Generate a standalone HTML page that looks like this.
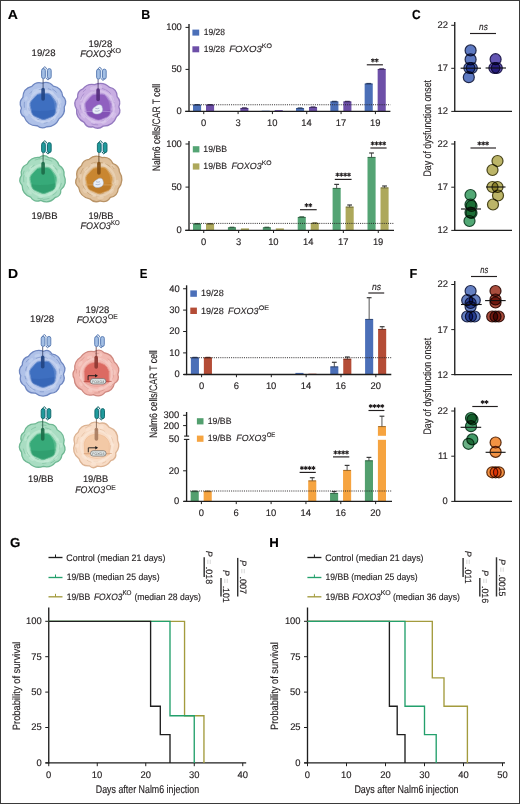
<!DOCTYPE html>
<html><head><meta charset="utf-8"><style>
html,body{margin:0;padding:0;background:#fff;}
svg{display:block;font-family:"Liberation Sans", sans-serif;text-rendering:geometricPrecision;}
svg{will-change:transform;}
text{stroke:#231f20;stroke-width:0.15px;}
</style></head><body>
<svg width="520" height="804" viewBox="0 0 520 804">
<rect x="0" y="0" width="520" height="804" fill="#fff"/>
<text x="7.85" y="18.50" font-size="13" fill="#000" textLength="10.13" lengthAdjust="spacingAndGlyphs" font-weight="bold">A</text>
<text x="141.29" y="18.50" font-size="13" fill="#000" textLength="9.00" lengthAdjust="spacingAndGlyphs" font-weight="bold">B</text>
<text x="411.92" y="18.60" font-size="13" fill="#000" textLength="8.60" lengthAdjust="spacingAndGlyphs" font-weight="bold">C</text>
<text x="8.09" y="277.90" font-size="13" fill="#000" textLength="10.10" lengthAdjust="spacingAndGlyphs" font-weight="bold">D</text>
<text x="139.65" y="277.90" font-size="13" fill="#000" textLength="7.67" lengthAdjust="spacingAndGlyphs" font-weight="bold">E</text>
<text x="409.57" y="277.90" font-size="13" fill="#000" textLength="7.79" lengthAdjust="spacingAndGlyphs" font-weight="bold">F</text>
<text x="10.07" y="547.30" font-size="13" fill="#000" textLength="10.37" lengthAdjust="spacingAndGlyphs" font-weight="bold">G</text>
<text x="269.34" y="547.30" font-size="13" fill="#000" textLength="9.55" lengthAdjust="spacingAndGlyphs" font-weight="bold">H</text>
<path d="M64.26,106.97 Q65.50,114.57 59.01,118.74 Q55.48,126.82 46.62,126.77 Q41.66,129.54 37.24,125.75 Q27.55,125.98 24.23,116.85 Q18.91,113.80 21.39,108.04 Q18.24,102.18 22.90,97.36 Q23.08,88.38 31.80,86.33 Q35.94,81.24 42.20,83.08 Q48.78,80.80 53.33,86.10 Q61.69,87.57 62.63,95.99 Q67.87,100.79 64.26,106.97Z" fill="#afc1e8" stroke="#6e86c0" stroke-width="1.3"/>
<ellipse cx="59.38" cy="105.82" rx="2.41" ry="1.71" transform="rotate(92.8 59.38 105.82)" fill="#cfdbf3" opacity="0.45"/>
<ellipse cx="53.30" cy="118.71" rx="2.85" ry="1.87" transform="rotate(142.3 53.30 118.71)" fill="#cfdbf3" opacity="0.45"/>
<ellipse cx="43.00" cy="122.14" rx="2.54" ry="1.38" transform="rotate(179.0 43.00 122.14)" fill="#cfdbf3" opacity="0.45"/>
<ellipse cx="37.58" cy="119.81" rx="2.70" ry="1.66" transform="rotate(199.1 37.58 119.81)" fill="#cfdbf3" opacity="0.45"/>
<ellipse cx="26.09" cy="112.95" rx="3.17" ry="1.97" transform="rotate(244.4 26.09 112.95)" fill="#cfdbf3" opacity="0.45"/>
<ellipse cx="26.07" cy="98.44" rx="2.23" ry="1.73" transform="rotate(291.5 26.07 98.44)" fill="#cfdbf3" opacity="0.45"/>
<ellipse cx="33.98" cy="91.43" rx="3.09" ry="1.77" transform="rotate(327.3 33.98 91.43)" fill="#cfdbf3" opacity="0.45"/>
<ellipse cx="38.22" cy="89.61" rx="2.69" ry="1.52" transform="rotate(343.8 38.22 89.61)" fill="#cfdbf3" opacity="0.45"/>
<ellipse cx="51.33" cy="92.11" rx="2.90" ry="1.56" transform="rotate(393.8 51.33 92.11)" fill="#cfdbf3" opacity="0.45"/>
<ellipse cx="59.57" cy="100.75" rx="3.12" ry="1.86" transform="rotate(435.9 59.57 100.75)" fill="#cfdbf3" opacity="0.45"/>
<path d="M56.99,111.66 A15.77,15.77 0 0 1 55.75,113.85" fill="none" stroke="#6e86c0" stroke-width="0.8" stroke-linecap="round" opacity="0.7"/>
<path d="M53.82,118.90 A17.80,17.80 0 0 1 51.03,120.73" fill="none" stroke="#6e86c0" stroke-width="0.8" stroke-linecap="round" opacity="0.7"/>
<path d="M47.19,122.52 A18.09,18.09 0 0 1 44.08,123.04" fill="none" stroke="#6e86c0" stroke-width="0.8" stroke-linecap="round" opacity="0.7"/>
<path d="M39.26,119.81 A15.21,15.21 0 0 1 37.00,119.10" fill="none" stroke="#6e86c0" stroke-width="0.8" stroke-linecap="round" opacity="0.7"/>
<path d="M31.35,116.64 A16.26,16.26 0 0 1 29.48,114.46" fill="none" stroke="#6e86c0" stroke-width="0.8" stroke-linecap="round" opacity="0.7"/>
<path d="M29.14,110.72 A14.72,14.72 0 0 1 28.32,108.13" fill="none" stroke="#6e86c0" stroke-width="0.8" stroke-linecap="round" opacity="0.7"/>
<path d="M24.36,107.34 A18.48,18.48 0 0 1 24.42,102.23" fill="none" stroke="#6e86c0" stroke-width="0.8" stroke-linecap="round" opacity="0.7"/>
<path d="M28.70,100.64 A14.67,14.67 0 0 1 30.74,96.51" fill="none" stroke="#6e86c0" stroke-width="0.8" stroke-linecap="round" opacity="0.7"/>
<path d="M30.05,93.24 A17.27,17.27 0 0 1 32.01,91.43" fill="none" stroke="#6e86c0" stroke-width="0.8" stroke-linecap="round" opacity="0.7"/>
<path d="M39.05,89.79 A15.64,15.64 0 0 1 41.47,89.40" fill="none" stroke="#6e86c0" stroke-width="0.8" stroke-linecap="round" opacity="0.7"/>
<path d="M48.30,88.69 A17.24,17.24 0 0 1 50.98,89.88" fill="none" stroke="#6e86c0" stroke-width="0.8" stroke-linecap="round" opacity="0.7"/>
<path d="M52.55,89.07 A18.73,18.73 0 0 1 56.38,92.21" fill="none" stroke="#6e86c0" stroke-width="0.8" stroke-linecap="round" opacity="0.7"/>
<path d="M57.29,99.94 A15.44,15.44 0 0 1 58.14,105.12" fill="none" stroke="#6e86c0" stroke-width="0.8" stroke-linecap="round" opacity="0.7"/>
<path d="M59.53,104.67 A16.84,16.84 0 0 1 59.14,108.64" fill="none" stroke="#6e86c0" stroke-width="0.8" stroke-linecap="round" opacity="0.7"/>
<circle cx="43.50" cy="106.30" r="15.6" fill="none" stroke="#cfdbf3" stroke-width="2.2" opacity="0.55"/>
<path d="M47.04,93.52 Q49.72,93.42 51.27,95.59 L55.21,101.12 Q56.76,103.29 56.34,105.94 L55.25,112.70 Q54.83,115.35 52.33,116.38 L45.98,118.98 Q43.48,120.00 41.04,118.93 L34.83,116.21 Q32.39,115.14 31.74,112.49 L30.11,105.73 Q29.46,103.08 31.24,101.05 L35.75,95.89 Q37.53,93.86 40.21,93.76 L47.04,93.52Z" fill="#3e6fc0" stroke="#6f93d2" stroke-width="1.0"/>
<clipPath id="nc42_105"><path d="M47.04,93.52 Q49.72,93.42 51.27,95.59 L55.21,101.12 Q56.76,103.29 56.34,105.94 L55.25,112.70 Q54.83,115.35 52.33,116.38 L45.98,118.98 Q43.48,120.00 41.04,118.93 L34.83,116.21 Q32.39,115.14 31.74,112.49 L30.11,105.73 Q29.46,103.08 31.24,101.05 L35.75,95.89 Q37.53,93.86 40.21,93.76 L47.04,93.52Z"/></clipPath>
<g clip-path="url(#nc42_105)"><path d="M27.50,109.30 Q39.50,113.30 59.50,108.30 L59.50,122.30 L27.50,122.30Z" fill="#2c58a8" opacity="0.35"/><path d="M47.50,92.30 Q56.50,98.30 55.50,112.30" fill="none" stroke="#6f93d2" stroke-width="1.4" opacity="0.5"/></g>
<line x1="43.10" y1="78.60" x2="43.10" y2="91.00" stroke="#28365a" stroke-width="0.75"/>
<rect x="41.30" y="87.80" width="3.6" height="13.0" rx="1.8" fill="#224483" opacity="0.92"/>
<rect x="44.90" y="68.80" width="3.0" height="9.8" fill="#d6e4f4"/>
<rect x="41.60" y="68.60" width="3.7" height="10.0" rx="1.85" fill="#a3bfe4" stroke="#5577b0" stroke-width="0.9"/>
<rect x="47.50" y="68.60" width="3.7" height="10.0" rx="1.85" fill="#a3bfe4" stroke="#5577b0" stroke-width="0.9"/>
<path d="M42.80,69.00 Q44.80,64.60 46.60,69.00" fill="none" stroke="#5577b0" stroke-width="1.0"/>
<path d="M46.40,78.00 Q48.00,81.80 49.60,78.00" fill="none" stroke="#5577b0" stroke-width="1.0"/>
<path d="M103.22,126.12 Q98.17,130.03 92.75,126.76 Q86.72,128.06 84.17,122.39 Q75.75,118.35 76.59,109.06 Q72.50,102.86 77.59,97.50 Q77.12,91.19 82.90,88.93 Q87.39,83.03 94.66,84.62 Q103.10,81.05 109.70,87.46 Q117.14,89.09 117.16,96.77 Q121.29,101.14 118.84,106.65 Q121.70,112.78 116.46,116.79 Q113.12,126.15 103.22,126.12Z" fill="#c9aee3" stroke="#9479bf" stroke-width="1.3"/>
<ellipse cx="103.87" cy="122.10" rx="2.93" ry="1.70" transform="rotate(159.6 103.87 122.10)" fill="#e0d0f0" opacity="0.45"/>
<ellipse cx="93.07" cy="122.16" rx="2.37" ry="1.65" transform="rotate(195.5 93.07 122.16)" fill="#e0d0f0" opacity="0.45"/>
<ellipse cx="83.11" cy="115.74" rx="3.04" ry="1.44" transform="rotate(234.9 83.11 115.74)" fill="#e0d0f0" opacity="0.45"/>
<ellipse cx="81.84" cy="105.68" rx="3.29" ry="1.64" transform="rotate(269.3 81.84 105.68)" fill="#e0d0f0" opacity="0.45"/>
<ellipse cx="81.61" cy="98.70" rx="2.64" ry="1.32" transform="rotate(292.9 81.61 98.70)" fill="#e0d0f0" opacity="0.45"/>
<ellipse cx="93.28" cy="88.25" rx="3.34" ry="1.91" transform="rotate(345.6 93.28 88.25)" fill="#e0d0f0" opacity="0.45"/>
<ellipse cx="99.28" cy="86.91" rx="2.87" ry="1.93" transform="rotate(364.9 99.28 86.91)" fill="#e0d0f0" opacity="0.45"/>
<ellipse cx="111.55" cy="98.02" rx="3.21" ry="1.86" transform="rotate(421.6 111.55 98.02)" fill="#e0d0f0" opacity="0.45"/>
<ellipse cx="113.57" cy="103.82" rx="2.81" ry="1.92" transform="rotate(443.9 113.57 103.82)" fill="#e0d0f0" opacity="0.45"/>
<ellipse cx="113.74" cy="115.30" rx="3.11" ry="1.98" transform="rotate(481.4 113.74 115.30)" fill="#e0d0f0" opacity="0.45"/>
<path d="M97.78,124.89 A19.39,19.39 0 0 1 91.88,123.99" fill="none" stroke="#9479bf" stroke-width="0.8" stroke-linecap="round" opacity="0.7"/>
<path d="M87.23,117.22 A15.71,15.71 0 0 1 84.18,113.51" fill="none" stroke="#9479bf" stroke-width="0.8" stroke-linecap="round" opacity="0.7"/>
<path d="M80.29,116.03 A20.34,20.34 0 0 1 77.78,109.61" fill="none" stroke="#9479bf" stroke-width="0.8" stroke-linecap="round" opacity="0.7"/>
<path d="M80.49,109.08 A17.57,17.57 0 0 1 80.13,105.05" fill="none" stroke="#9479bf" stroke-width="0.8" stroke-linecap="round" opacity="0.7"/>
<path d="M80.64,99.29 A18.16,18.16 0 0 1 83.73,93.90" fill="none" stroke="#9479bf" stroke-width="0.8" stroke-linecap="round" opacity="0.7"/>
<path d="M83.18,91.72 A20.02,20.02 0 0 1 85.72,89.46" fill="none" stroke="#9479bf" stroke-width="0.8" stroke-linecap="round" opacity="0.7"/>
<path d="M92.79,91.73 A14.62,14.62 0 0 1 96.51,90.93" fill="none" stroke="#9479bf" stroke-width="0.8" stroke-linecap="round" opacity="0.7"/>
<path d="M102.32,88.57 A17.55,17.55 0 0 1 104.82,89.45" fill="none" stroke="#9479bf" stroke-width="0.8" stroke-linecap="round" opacity="0.7"/>
<path d="M105.79,89.77 A17.69,17.69 0 0 1 110.65,93.45" fill="none" stroke="#9479bf" stroke-width="0.8" stroke-linecap="round" opacity="0.7"/>
<path d="M111.90,97.63 A16.23,16.23 0 0 1 113.73,102.92" fill="none" stroke="#9479bf" stroke-width="0.8" stroke-linecap="round" opacity="0.7"/>
<path d="M114.57,102.51 A17.14,17.14 0 0 1 114.77,107.01" fill="none" stroke="#9479bf" stroke-width="0.8" stroke-linecap="round" opacity="0.7"/>
<path d="M112.10,110.15 A15.13,15.13 0 0 1 110.35,113.80" fill="none" stroke="#9479bf" stroke-width="0.8" stroke-linecap="round" opacity="0.7"/>
<path d="M109.13,118.27 A17.14,17.14 0 0 1 105.90,120.55" fill="none" stroke="#9479bf" stroke-width="0.8" stroke-linecap="round" opacity="0.7"/>
<path d="M103.98,120.59 A16.34,16.34 0 0 1 101.06,121.49" fill="none" stroke="#9479bf" stroke-width="0.8" stroke-linecap="round" opacity="0.7"/>
<circle cx="98.50" cy="106.80" r="15.6" fill="none" stroke="#e0d0f0" stroke-width="2.2" opacity="0.55"/>
<path d="M102.04,94.02 Q104.72,93.92 106.27,96.09 L110.21,101.62 Q111.76,103.79 111.34,106.44 L110.25,113.20 Q109.83,115.85 107.33,116.88 L100.98,119.48 Q98.48,120.50 96.04,119.43 L89.83,116.71 Q87.39,115.64 86.74,112.99 L85.11,106.23 Q84.46,103.58 86.24,101.55 L90.75,96.39 Q92.53,94.36 95.21,94.26 L102.04,94.02Z" fill="#9060c0" stroke="#b08fd6" stroke-width="1.0"/>
<clipPath id="nc97_105"><path d="M102.04,94.02 Q104.72,93.92 106.27,96.09 L110.21,101.62 Q111.76,103.79 111.34,106.44 L110.25,113.20 Q109.83,115.85 107.33,116.88 L100.98,119.48 Q98.48,120.50 96.04,119.43 L89.83,116.71 Q87.39,115.64 86.74,112.99 L85.11,106.23 Q84.46,103.58 86.24,101.55 L90.75,96.39 Q92.53,94.36 95.21,94.26 L102.04,94.02Z"/></clipPath>
<g clip-path="url(#nc97_105)"><path d="M82.50,109.80 Q94.50,113.80 114.50,108.80 L114.50,122.80 L82.50,122.80Z" fill="#6c3aa0" opacity="0.35"/><path d="M102.50,92.80 Q111.50,98.80 110.50,112.80" fill="none" stroke="#b08fd6" stroke-width="1.4" opacity="0.5"/></g>
<line x1="84.50" y1="111.40" x2="112.50" y2="111.40" stroke="#b08fd6" stroke-width="0.8"/>
<path d="M92.50,111.40 C92.10,107.90 95.20,106.90 96.90,105.60 C98.70,103.80 102.50,104.60 102.20,107.60 C103.30,109.40 102.50,113.20 98.90,113.70 C96.40,114.60 92.90,113.70 92.50,111.40Z" fill="#e9eff8" stroke="#a4b2cc" stroke-width="0.5"/>
<path d="M95.20,108.20 q2,1 4,0 M94.70,110.90 q2.5,1 5,-0.5" stroke="#8e9cbc" stroke-width="0.6" fill="none"/>
<line x1="98.10" y1="79.10" x2="98.10" y2="91.50" stroke="#3a2a5a" stroke-width="0.75"/>
<rect x="96.30" y="88.30" width="3.6" height="13.0" rx="1.8" fill="#542d7c" opacity="0.92"/>
<rect x="99.90" y="69.30" width="3.0" height="9.8" fill="#d6e4f4"/>
<rect x="96.60" y="69.10" width="3.7" height="10.0" rx="1.85" fill="#a3bfe4" stroke="#5577b0" stroke-width="0.9"/>
<rect x="102.50" y="69.10" width="3.7" height="10.0" rx="1.85" fill="#a3bfe4" stroke="#5577b0" stroke-width="0.9"/>
<path d="M97.80,69.50 Q99.80,65.10 101.60,69.50" fill="none" stroke="#5577b0" stroke-width="1.0"/>
<path d="M101.40,78.50 Q103.00,82.30 104.60,78.50" fill="none" stroke="#5577b0" stroke-width="1.0"/>
<path d="M30.62,197.03 Q22.23,194.30 22.16,185.48 Q17.75,180.67 21.50,175.33 Q19.98,167.41 27.28,163.98 Q31.16,156.81 39.28,157.48 Q44.20,153.65 48.79,157.72 Q56.53,157.94 59.06,165.31 Q64.89,168.62 64.01,175.23 Q67.94,183.76 60.80,189.87 Q61.22,196.42 55.13,197.49 Q49.04,204.39 40.74,200.34 Q34.20,203.04 30.62,197.03Z" fill="#a9ddc2" stroke="#6fb893" stroke-width="1.3"/>
<ellipse cx="29.63" cy="192.16" rx="2.84" ry="1.54" transform="rotate(224.8 29.63 192.16)" fill="#cbeedb" opacity="0.45"/>
<ellipse cx="28.04" cy="184.80" rx="2.37" ry="1.39" transform="rotate(248.4 28.04 184.80)" fill="#cbeedb" opacity="0.45"/>
<ellipse cx="26.94" cy="174.33" rx="3.10" ry="1.67" transform="rotate(286.5 26.94 174.33)" fill="#cbeedb" opacity="0.45"/>
<ellipse cx="31.21" cy="167.54" rx="2.60" ry="1.66" transform="rotate(314.9 31.21 167.54)" fill="#cbeedb" opacity="0.45"/>
<ellipse cx="42.03" cy="161.12" rx="2.36" ry="1.78" transform="rotate(357.9 42.03 161.12)" fill="#cbeedb" opacity="0.45"/>
<ellipse cx="52.83" cy="166.09" rx="2.78" ry="1.77" transform="rotate(398.1 52.83 166.09)" fill="#cbeedb" opacity="0.45"/>
<ellipse cx="59.46" cy="171.47" rx="2.26" ry="1.81" transform="rotate(425.8 59.46 171.47)" fill="#cbeedb" opacity="0.45"/>
<ellipse cx="57.97" cy="187.03" rx="3.13" ry="1.97" transform="rotate(477.7 57.97 187.03)" fill="#cbeedb" opacity="0.45"/>
<ellipse cx="49.72" cy="193.75" rx="2.51" ry="1.33" transform="rotate(514.5 49.72 193.75)" fill="#cbeedb" opacity="0.45"/>
<ellipse cx="40.54" cy="196.22" rx="2.42" ry="1.66" transform="rotate(547.1 40.54 196.22)" fill="#cbeedb" opacity="0.45"/>
<path d="M23.78,181.91 A19.14,19.14 0 0 1 23.89,175.49" fill="none" stroke="#6fb893" stroke-width="0.8" stroke-linecap="round" opacity="0.7"/>
<path d="M23.06,174.32 A20.19,20.19 0 0 1 24.10,171.14" fill="none" stroke="#6fb893" stroke-width="0.8" stroke-linecap="round" opacity="0.7"/>
<path d="M31.59,167.44 A16.03,16.03 0 0 1 34.18,165.42" fill="none" stroke="#6fb893" stroke-width="0.8" stroke-linecap="round" opacity="0.7"/>
<path d="M35.15,160.01 A20.43,20.43 0 0 1 42.04,158.58" fill="none" stroke="#6fb893" stroke-width="0.8" stroke-linecap="round" opacity="0.7"/>
<path d="M45.38,159.12 A20.06,20.06 0 0 1 51.79,161.12" fill="none" stroke="#6fb893" stroke-width="0.8" stroke-linecap="round" opacity="0.7"/>
<path d="M53.24,165.62 A17.04,17.04 0 0 1 57.09,169.88" fill="none" stroke="#6fb893" stroke-width="0.8" stroke-linecap="round" opacity="0.7"/>
<path d="M54.92,168.27 A16.26,16.26 0 0 1 57.61,172.50" fill="none" stroke="#6fb893" stroke-width="0.8" stroke-linecap="round" opacity="0.7"/>
<path d="M59.03,178.70 A16.34,16.34 0 0 1 58.68,182.39" fill="none" stroke="#6fb893" stroke-width="0.8" stroke-linecap="round" opacity="0.7"/>
<path d="M61.38,183.25 A19.16,19.16 0 0 1 59.40,188.39" fill="none" stroke="#6fb893" stroke-width="0.8" stroke-linecap="round" opacity="0.7"/>
<path d="M56.51,192.08 A19.02,19.02 0 0 1 52.89,195.06" fill="none" stroke="#6fb893" stroke-width="0.8" stroke-linecap="round" opacity="0.7"/>
<path d="M49.20,198.38 A20.44,20.44 0 0 1 43.53,199.42" fill="none" stroke="#6fb893" stroke-width="0.8" stroke-linecap="round" opacity="0.7"/>
<path d="M42.76,198.91 A19.91,19.91 0 0 1 37.83,198.31" fill="none" stroke="#6fb893" stroke-width="0.8" stroke-linecap="round" opacity="0.7"/>
<path d="M34.79,192.49 A15.64,15.64 0 0 1 31.62,190.04" fill="none" stroke="#6fb893" stroke-width="0.8" stroke-linecap="round" opacity="0.7"/>
<path d="M28.83,188.25 A16.67,16.67 0 0 1 27.58,186.02" fill="none" stroke="#6fb893" stroke-width="0.8" stroke-linecap="round" opacity="0.7"/>
<circle cx="43.50" cy="180.30" r="15.6" fill="none" stroke="#cbeedb" stroke-width="2.2" opacity="0.55"/>
<path d="M47.04,167.52 Q49.72,167.42 51.27,169.59 L55.21,175.12 Q56.76,177.29 56.34,179.94 L55.25,186.70 Q54.83,189.35 52.33,190.38 L45.98,192.98 Q43.48,194.00 41.04,192.93 L34.83,190.21 Q32.39,189.14 31.74,186.49 L30.11,179.73 Q29.46,177.08 31.24,175.05 L35.75,169.89 Q37.53,167.86 40.21,167.76 L47.04,167.52Z" fill="#37aa79" stroke="#6cc59b" stroke-width="1.0"/>
<clipPath id="nc42_179"><path d="M47.04,167.52 Q49.72,167.42 51.27,169.59 L55.21,175.12 Q56.76,177.29 56.34,179.94 L55.25,186.70 Q54.83,189.35 52.33,190.38 L45.98,192.98 Q43.48,194.00 41.04,192.93 L34.83,190.21 Q32.39,189.14 31.74,186.49 L30.11,179.73 Q29.46,177.08 31.24,175.05 L35.75,169.89 Q37.53,167.86 40.21,167.76 L47.04,167.52Z"/></clipPath>
<g clip-path="url(#nc42_179)"><path d="M27.50,183.30 Q39.50,187.30 59.50,182.30 L59.50,196.30 L27.50,196.30Z" fill="#248c5e" opacity="0.35"/><path d="M47.50,166.30 Q56.50,172.30 55.50,186.30" fill="none" stroke="#6cc59b" stroke-width="1.4" opacity="0.5"/></g>
<line x1="43.10" y1="152.60" x2="43.10" y2="165.00" stroke="#1b4a3a" stroke-width="0.75"/>
<rect x="41.30" y="161.80" width="3.6" height="13.0" rx="1.8" fill="#1c6d49" opacity="0.92"/>
<rect x="44.90" y="142.80" width="3.0" height="9.8" fill="#d6e4f4"/>
<rect x="41.60" y="142.60" width="3.7" height="10.0" rx="1.85" fill="#1f9a9c" stroke="#0d6468" stroke-width="0.9"/>
<rect x="47.50" y="142.60" width="3.7" height="10.0" rx="1.85" fill="#1f9a9c" stroke="#0d6468" stroke-width="0.9"/>
<path d="M42.80,143.00 Q44.80,138.60 46.60,143.00" fill="none" stroke="#0d6468" stroke-width="1.0"/>
<path d="M46.40,152.00 Q48.00,155.80 49.60,152.00" fill="none" stroke="#0d6468" stroke-width="1.0"/>
<path d="M77.03,177.41 Q75.38,170.16 81.43,165.83 Q83.09,160.10 88.99,159.39 Q94.95,153.88 102.20,157.55 Q109.88,156.43 112.99,163.62 Q119.01,165.44 119.37,171.55 Q125.01,180.58 118.20,188.74 Q117.64,196.12 110.34,197.43 Q106.64,203.32 100.13,200.92 Q94.20,203.35 89.66,198.77 Q80.13,197.08 78.69,187.52 Q73.60,183.17 77.03,177.41Z" fill="#e0c19c" stroke="#b99366" stroke-width="1.3"/>
<ellipse cx="80.30" cy="176.78" rx="3.34" ry="1.40" transform="rotate(277.0 80.30 176.78)" fill="#efdcc4" opacity="0.45"/>
<ellipse cx="86.35" cy="169.13" rx="2.98" ry="1.65" transform="rotate(309.1 86.35 169.13)" fill="#efdcc4" opacity="0.45"/>
<ellipse cx="92.40" cy="164.68" rx="2.25" ry="1.35" transform="rotate(336.9 92.40 164.68)" fill="#efdcc4" opacity="0.45"/>
<ellipse cx="104.91" cy="164.62" rx="2.78" ry="1.95" transform="rotate(384.0 104.91 164.62)" fill="#efdcc4" opacity="0.45"/>
<ellipse cx="112.63" cy="166.36" rx="2.65" ry="1.68" transform="rotate(408.2 112.63 166.36)" fill="#efdcc4" opacity="0.45"/>
<ellipse cx="116.69" cy="182.59" rx="2.95" ry="1.94" transform="rotate(461.2 116.69 182.59)" fill="#efdcc4" opacity="0.45"/>
<ellipse cx="111.79" cy="191.41" rx="2.93" ry="1.48" transform="rotate(493.0 111.79 191.41)" fill="#efdcc4" opacity="0.45"/>
<ellipse cx="100.55" cy="197.51" rx="3.38" ry="1.58" transform="rotate(533.7 100.55 197.51)" fill="#efdcc4" opacity="0.45"/>
<ellipse cx="93.32" cy="194.88" rx="2.79" ry="1.84" transform="rotate(558.1 93.32 194.88)" fill="#efdcc4" opacity="0.45"/>
<ellipse cx="84.98" cy="190.74" rx="2.85" ry="1.94" transform="rotate(589.0 84.98 190.74)" fill="#efdcc4" opacity="0.45"/>
<path d="M91.53,163.43 A17.06,17.06 0 0 1 95.91,162.14" fill="none" stroke="#b99366" stroke-width="0.8" stroke-linecap="round" opacity="0.7"/>
<path d="M96.90,162.36 A16.71,16.71 0 0 1 102.49,162.77" fill="none" stroke="#b99366" stroke-width="0.8" stroke-linecap="round" opacity="0.7"/>
<path d="M105.65,163.71 A16.88,16.88 0 0 1 109.97,166.61" fill="none" stroke="#b99366" stroke-width="0.8" stroke-linecap="round" opacity="0.7"/>
<path d="M112.06,166.29 A18.58,18.58 0 0 1 113.95,168.67" fill="none" stroke="#b99366" stroke-width="0.8" stroke-linecap="round" opacity="0.7"/>
<path d="M114.10,177.24 A15.70,15.70 0 0 1 113.88,182.17" fill="none" stroke="#b99366" stroke-width="0.8" stroke-linecap="round" opacity="0.7"/>
<path d="M114.82,183.44 A16.92,16.92 0 0 1 112.52,188.47" fill="none" stroke="#b99366" stroke-width="0.8" stroke-linecap="round" opacity="0.7"/>
<path d="M110.61,188.81 A15.58,15.58 0 0 1 108.01,191.35" fill="none" stroke="#b99366" stroke-width="0.8" stroke-linecap="round" opacity="0.7"/>
<path d="M103.31,193.32 A15.11,15.11 0 0 1 99.13,194.10" fill="none" stroke="#b99366" stroke-width="0.8" stroke-linecap="round" opacity="0.7"/>
<path d="M99.40,196.21 A17.23,17.23 0 0 1 96.33,196.09" fill="none" stroke="#b99366" stroke-width="0.8" stroke-linecap="round" opacity="0.7"/>
<path d="M92.17,195.36 A17.54,17.54 0 0 1 87.18,192.41" fill="none" stroke="#b99366" stroke-width="0.8" stroke-linecap="round" opacity="0.7"/>
<path d="M85.37,189.48 A16.79,16.79 0 0 1 83.15,185.81" fill="none" stroke="#b99366" stroke-width="0.8" stroke-linecap="round" opacity="0.7"/>
<path d="M79.30,182.12 A19.45,19.45 0 0 1 79.06,178.22" fill="none" stroke="#b99366" stroke-width="0.8" stroke-linecap="round" opacity="0.7"/>
<path d="M80.50,173.79 A18.73,18.73 0 0 1 83.14,168.28" fill="none" stroke="#b99366" stroke-width="0.8" stroke-linecap="round" opacity="0.7"/>
<path d="M86.27,170.36 A14.98,14.98 0 0 1 89.43,167.08" fill="none" stroke="#b99366" stroke-width="0.8" stroke-linecap="round" opacity="0.7"/>
<circle cx="99.30" cy="180.30" r="15.6" fill="none" stroke="#efdcc4" stroke-width="2.2" opacity="0.55"/>
<path d="M102.84,167.52 Q105.52,167.42 107.07,169.59 L111.01,175.12 Q112.56,177.29 112.14,179.94 L111.05,186.70 Q110.63,189.35 108.13,190.38 L101.78,192.98 Q99.28,194.00 96.84,192.93 L90.63,190.21 Q88.19,189.14 87.54,186.49 L85.91,179.73 Q85.26,177.08 87.04,175.05 L91.55,169.89 Q93.33,167.86 96.01,167.76 L102.84,167.52Z" fill="#c98630" stroke="#d9a560" stroke-width="1.0"/>
<clipPath id="nc98_179"><path d="M102.84,167.52 Q105.52,167.42 107.07,169.59 L111.01,175.12 Q112.56,177.29 112.14,179.94 L111.05,186.70 Q110.63,189.35 108.13,190.38 L101.78,192.98 Q99.28,194.00 96.84,192.93 L90.63,190.21 Q88.19,189.14 87.54,186.49 L85.91,179.73 Q85.26,177.08 87.04,175.05 L91.55,169.89 Q93.33,167.86 96.01,167.76 L102.84,167.52Z"/></clipPath>
<g clip-path="url(#nc98_179)"><path d="M83.30,183.30 Q95.30,187.30 115.30,182.30 L115.30,196.30 L83.30,196.30Z" fill="#a9661a" opacity="0.35"/><path d="M103.30,166.30 Q112.30,172.30 111.30,186.30" fill="none" stroke="#d9a560" stroke-width="1.4" opacity="0.5"/></g>
<line x1="85.30" y1="184.90" x2="113.30" y2="184.90" stroke="#d9a560" stroke-width="0.8"/>
<path d="M93.30,184.90 C92.90,181.40 96.00,180.40 97.70,179.10 C99.50,177.30 103.30,178.10 103.00,181.10 C104.10,182.90 103.30,186.70 99.70,187.20 C97.20,188.10 93.70,187.20 93.30,184.90Z" fill="#e9eff8" stroke="#a4b2cc" stroke-width="0.5"/>
<path d="M96.00,181.70 q2,1 4,0 M95.50,184.40 q2.5,1 5,-0.5" stroke="#8e9cbc" stroke-width="0.6" fill="none"/>
<line x1="98.90" y1="152.60" x2="98.90" y2="165.00" stroke="#4a3418" stroke-width="0.75"/>
<rect x="97.10" y="161.80" width="3.6" height="13.0" rx="1.8" fill="#834f14" opacity="0.92"/>
<rect x="100.70" y="142.80" width="3.0" height="9.8" fill="#d6e4f4"/>
<rect x="97.40" y="142.60" width="3.7" height="10.0" rx="1.85" fill="#1f9a9c" stroke="#0d6468" stroke-width="0.9"/>
<rect x="103.30" y="142.60" width="3.7" height="10.0" rx="1.85" fill="#1f9a9c" stroke="#0d6468" stroke-width="0.9"/>
<path d="M98.60,143.00 Q100.60,138.60 102.40,143.00" fill="none" stroke="#0d6468" stroke-width="1.0"/>
<path d="M102.20,152.00 Q103.80,155.80 105.40,152.00" fill="none" stroke="#0d6468" stroke-width="1.0"/>
<path d="M59.80,385.29 Q58.02,392.83 50.36,393.37 Q42.90,398.96 35.56,393.16 Q27.34,393.80 24.88,385.98 Q18.84,382.40 20.65,375.62 Q17.53,369.73 22.28,364.99 Q22.10,358.39 28.39,356.41 Q34.18,348.16 43.77,351.27 Q48.81,348.78 51.68,353.78 Q59.12,354.72 61.11,361.92 Q67.18,367.09 63.43,374.21 Q66.14,381.27 59.80,385.29Z" fill="#afc1e8" stroke="#6e86c0" stroke-width="1.3"/>
<ellipse cx="53.93" cy="386.92" rx="2.81" ry="1.40" transform="rotate(140.5 53.93 386.92)" fill="#cfdbf3" opacity="0.45"/>
<ellipse cx="49.04" cy="388.27" rx="3.36" ry="1.74" transform="rotate(156.5 49.04 388.27)" fill="#cfdbf3" opacity="0.45"/>
<ellipse cx="32.27" cy="388.57" rx="2.53" ry="1.90" transform="rotate(212.5 32.27 388.57)" fill="#cfdbf3" opacity="0.45"/>
<ellipse cx="29.11" cy="383.54" rx="2.92" ry="1.92" transform="rotate(230.9 29.11 383.54)" fill="#cfdbf3" opacity="0.45"/>
<ellipse cx="26.89" cy="374.73" rx="2.91" ry="1.96" transform="rotate(262.9 26.89 374.73)" fill="#cfdbf3" opacity="0.45"/>
<ellipse cx="30.83" cy="360.46" rx="2.97" ry="1.45" transform="rotate(317.1 30.83 360.46)" fill="#cfdbf3" opacity="0.45"/>
<ellipse cx="37.48" cy="355.55" rx="3.13" ry="1.57" transform="rotate(344.4 37.48 355.55)" fill="#cfdbf3" opacity="0.45"/>
<ellipse cx="48.04" cy="355.58" rx="3.14" ry="1.97" transform="rotate(378.4 48.04 355.58)" fill="#cfdbf3" opacity="0.45"/>
<ellipse cx="57.97" cy="366.40" rx="3.12" ry="1.82" transform="rotate(427.8 57.97 366.40)" fill="#cfdbf3" opacity="0.45"/>
<ellipse cx="60.81" cy="373.90" rx="3.27" ry="1.87" transform="rotate(453.4 60.81 373.90)" fill="#cfdbf3" opacity="0.45"/>
<path d="M50.29,387.98 A17.15,17.15 0 0 1 46.34,389.47" fill="none" stroke="#6e86c0" stroke-width="0.8" stroke-linecap="round" opacity="0.7"/>
<path d="M43.53,391.79 A19.03,19.03 0 0 1 40.12,391.70" fill="none" stroke="#6e86c0" stroke-width="0.8" stroke-linecap="round" opacity="0.7"/>
<path d="M34.93,390.14 A18.84,18.84 0 0 1 30.17,387.21" fill="none" stroke="#6e86c0" stroke-width="0.8" stroke-linecap="round" opacity="0.7"/>
<path d="M29.08,386.03 A18.71,18.71 0 0 1 26.38,382.62" fill="none" stroke="#6e86c0" stroke-width="0.8" stroke-linecap="round" opacity="0.7"/>
<path d="M25.78,378.97 A17.63,17.63 0 0 1 25.00,376.19" fill="none" stroke="#6e86c0" stroke-width="0.8" stroke-linecap="round" opacity="0.7"/>
<path d="M25.73,370.46 A16.73,16.73 0 0 1 26.64,366.91" fill="none" stroke="#6e86c0" stroke-width="0.8" stroke-linecap="round" opacity="0.7"/>
<path d="M26.23,362.04 A19.34,19.34 0 0 1 28.42,359.33" fill="none" stroke="#6e86c0" stroke-width="0.8" stroke-linecap="round" opacity="0.7"/>
<path d="M36.24,358.34 A15.68,15.68 0 0 1 40.32,357.25" fill="none" stroke="#6e86c0" stroke-width="0.8" stroke-linecap="round" opacity="0.7"/>
<path d="M43.32,357.59 A15.24,15.24 0 0 1 47.62,358.52" fill="none" stroke="#6e86c0" stroke-width="0.8" stroke-linecap="round" opacity="0.7"/>
<path d="M49.68,354.18 A20.03,20.03 0 0 1 54.72,357.09" fill="none" stroke="#6e86c0" stroke-width="0.8" stroke-linecap="round" opacity="0.7"/>
<path d="M56.53,359.15 A19.72,19.72 0 0 1 60.07,364.25" fill="none" stroke="#6e86c0" stroke-width="0.8" stroke-linecap="round" opacity="0.7"/>
<path d="M59.03,368.78 A17.20,17.20 0 0 1 59.49,373.41" fill="none" stroke="#6e86c0" stroke-width="0.8" stroke-linecap="round" opacity="0.7"/>
<path d="M61.22,375.38 A19.10,19.10 0 0 1 60.59,378.28" fill="none" stroke="#6e86c0" stroke-width="0.8" stroke-linecap="round" opacity="0.7"/>
<path d="M55.85,380.64 A15.65,15.65 0 0 1 52.79,384.42" fill="none" stroke="#6e86c0" stroke-width="0.8" stroke-linecap="round" opacity="0.7"/>
<circle cx="43.10" cy="374.10" r="15.6" fill="none" stroke="#cfdbf3" stroke-width="2.2" opacity="0.55"/>
<path d="M46.64,361.32 Q49.32,361.22 50.87,363.39 L54.81,368.92 Q56.36,371.09 55.94,373.74 L54.85,380.50 Q54.43,383.15 51.93,384.18 L45.58,386.78 Q43.08,387.80 40.64,386.73 L34.43,384.01 Q31.99,382.94 31.34,380.29 L29.71,373.53 Q29.06,370.88 30.84,368.85 L35.35,363.69 Q37.13,361.66 39.81,361.56 L46.64,361.32Z" fill="#3e6fc0" stroke="#6f93d2" stroke-width="1.0"/>
<clipPath id="nc42_372"><path d="M46.64,361.32 Q49.32,361.22 50.87,363.39 L54.81,368.92 Q56.36,371.09 55.94,373.74 L54.85,380.50 Q54.43,383.15 51.93,384.18 L45.58,386.78 Q43.08,387.80 40.64,386.73 L34.43,384.01 Q31.99,382.94 31.34,380.29 L29.71,373.53 Q29.06,370.88 30.84,368.85 L35.35,363.69 Q37.13,361.66 39.81,361.56 L46.64,361.32Z"/></clipPath>
<g clip-path="url(#nc42_372)"><path d="M27.10,377.10 Q39.10,381.10 59.10,376.10 L59.10,390.10 L27.10,390.10Z" fill="#2c58a8" opacity="0.35"/><path d="M47.10,360.10 Q56.10,366.10 55.10,380.10" fill="none" stroke="#6f93d2" stroke-width="1.4" opacity="0.5"/></g>
<line x1="42.70" y1="346.40" x2="42.70" y2="358.80" stroke="#28365a" stroke-width="0.75"/>
<rect x="40.90" y="355.60" width="3.6" height="13.0" rx="1.8" fill="#224483" opacity="0.92"/>
<rect x="44.50" y="336.60" width="3.0" height="9.8" fill="#d6e4f4"/>
<rect x="41.20" y="336.40" width="3.7" height="10.0" rx="1.85" fill="#a3bfe4" stroke="#5577b0" stroke-width="0.9"/>
<rect x="47.10" y="336.40" width="3.7" height="10.0" rx="1.85" fill="#a3bfe4" stroke="#5577b0" stroke-width="0.9"/>
<path d="M42.40,336.80 Q44.40,332.40 46.20,336.80" fill="none" stroke="#5577b0" stroke-width="1.0"/>
<path d="M46.00,345.80 Q47.60,349.60 49.20,345.80" fill="none" stroke="#5577b0" stroke-width="1.0"/>
<path d="M93.34,394.56 Q85.60,396.89 81.76,389.81 Q74.38,386.64 74.30,378.62 Q71.38,374.06 74.84,369.59 Q73.82,361.34 80.90,356.94 Q85.91,349.84 94.39,351.66 Q99.80,348.17 104.12,352.76 Q112.09,354.10 114.17,361.91 Q120.83,366.90 117.80,374.58 Q120.03,380.40 114.32,383.45 Q112.87,391.04 105.23,392.16 Q100.23,398.25 93.34,394.56Z" fill="#f2b8b0" stroke="#cf8980" stroke-width="1.3"/>
<ellipse cx="90.21" cy="390.74" rx="2.43" ry="1.47" transform="rotate(197.4 90.21 390.74)" fill="#f8d6d0" opacity="0.45"/>
<ellipse cx="80.82" cy="384.12" rx="2.40" ry="1.33" transform="rotate(233.2 80.82 384.12)" fill="#f8d6d0" opacity="0.45"/>
<ellipse cx="80.35" cy="375.78" rx="3.31" ry="1.58" transform="rotate(259.5 80.35 375.78)" fill="#f8d6d0" opacity="0.45"/>
<ellipse cx="80.44" cy="363.73" rx="3.16" ry="1.56" transform="rotate(300.8 80.44 363.73)" fill="#f8d6d0" opacity="0.45"/>
<ellipse cx="89.62" cy="357.50" rx="2.79" ry="1.83" transform="rotate(338.1 89.62 357.50)" fill="#f8d6d0" opacity="0.45"/>
<ellipse cx="99.98" cy="354.73" rx="2.43" ry="1.97" transform="rotate(373.0 99.98 354.73)" fill="#f8d6d0" opacity="0.45"/>
<ellipse cx="109.71" cy="362.35" rx="2.58" ry="1.68" transform="rotate(412.8 109.71 362.35)" fill="#f8d6d0" opacity="0.45"/>
<ellipse cx="113.92" cy="372.10" rx="2.84" ry="1.98" transform="rotate(447.5 113.92 372.10)" fill="#f8d6d0" opacity="0.45"/>
<ellipse cx="111.45" cy="383.37" rx="3.10" ry="1.86" transform="rotate(483.8 111.45 383.37)" fill="#f8d6d0" opacity="0.45"/>
<ellipse cx="100.63" cy="388.01" rx="2.46" ry="1.56" transform="rotate(522.3 100.63 388.01)" fill="#f8d6d0" opacity="0.45"/>
<path d="M84.21,384.63 A16.49,16.49 0 0 1 80.98,380.14" fill="none" stroke="#cf8980" stroke-width="0.8" stroke-linecap="round" opacity="0.7"/>
<path d="M79.61,376.18 A16.52,16.52 0 0 1 79.41,370.82" fill="none" stroke="#cf8980" stroke-width="0.8" stroke-linecap="round" opacity="0.7"/>
<path d="M76.31,373.06 A19.49,19.49 0 0 1 76.63,369.37" fill="none" stroke="#cf8980" stroke-width="0.8" stroke-linecap="round" opacity="0.7"/>
<path d="M80.50,361.10 A19.32,19.32 0 0 1 84.16,357.48" fill="none" stroke="#cf8980" stroke-width="0.8" stroke-linecap="round" opacity="0.7"/>
<path d="M87.30,360.33 A15.18,15.18 0 0 1 89.98,358.88" fill="none" stroke="#cf8980" stroke-width="0.8" stroke-linecap="round" opacity="0.7"/>
<path d="M95.34,353.43 A19.48,19.48 0 0 1 98.97,353.68" fill="none" stroke="#cf8980" stroke-width="0.8" stroke-linecap="round" opacity="0.7"/>
<path d="M101.90,359.40 A14.81,14.81 0 0 1 105.04,361.32" fill="none" stroke="#cf8980" stroke-width="0.8" stroke-linecap="round" opacity="0.7"/>
<path d="M108.28,358.85 A18.79,18.79 0 0 1 111.81,363.06" fill="none" stroke="#cf8980" stroke-width="0.8" stroke-linecap="round" opacity="0.7"/>
<path d="M112.77,369.59 A17.29,17.29 0 0 1 112.90,375.45" fill="none" stroke="#cf8980" stroke-width="0.8" stroke-linecap="round" opacity="0.7"/>
<path d="M113.31,375.77 A17.74,17.74 0 0 1 112.45,379.04" fill="none" stroke="#cf8980" stroke-width="0.8" stroke-linecap="round" opacity="0.7"/>
<path d="M113.03,383.86 A20.42,20.42 0 0 1 110.43,387.15" fill="none" stroke="#cf8980" stroke-width="0.8" stroke-linecap="round" opacity="0.7"/>
<path d="M104.10,389.88 A18.90,18.90 0 0 1 98.55,391.60" fill="none" stroke="#cf8980" stroke-width="0.8" stroke-linecap="round" opacity="0.7"/>
<path d="M99.68,392.69 A20.17,20.17 0 0 1 94.69,393.04" fill="none" stroke="#cf8980" stroke-width="0.8" stroke-linecap="round" opacity="0.7"/>
<path d="M88.53,388.52 A17.22,17.22 0 0 1 83.92,385.37" fill="none" stroke="#cf8980" stroke-width="0.8" stroke-linecap="round" opacity="0.7"/>
<circle cx="96.60" cy="374.20" r="15.6" fill="none" stroke="#f8d6d0" stroke-width="2.2" opacity="0.55"/>
<path d="M84.60,382.20 L84.10,371.20 Q85.60,363.20 94.60,362.20 Q106.60,362.20 109.10,371.20 L109.10,382.20 Q96.60,385.20 84.60,382.20Z" fill="#dc6a62" stroke="#e6928a" stroke-width="0.8"/>
<path d="M84.60,382.20 Q96.60,390.20 109.10,382.20" fill="none" stroke="#e6928a" stroke-width="1.2" opacity="0.6"/>
<line x1="83.60" y1="381.40" x2="111.60" y2="381.40" stroke="#b5473f" stroke-width="0.7"/>
<path d="M88.10,380.20 L88.10,375.70 L96.10,375.70" fill="none" stroke="#1a1a1a" stroke-width="0.9"/>
<path d="M95.10,373.90 L97.90,375.70 L95.10,377.50Z" fill="#1a1a1a"/>
<rect x="90.30" y="378.60" width="15.6" height="5.4" rx="2.7" fill="#dfe6e6" stroke="#555" stroke-width="0.6"/>
<text x="98.10" y="382.60" font-size="3.6" text-anchor="middle" fill="#666" style="stroke:none">FOXO3</text>
<line x1="96.20" y1="346.50" x2="96.20" y2="358.90" stroke="#5a2a2a" stroke-width="0.75"/>
<rect x="94.40" y="355.70" width="3.6" height="13.0" rx="1.8" fill="#8d3731" opacity="0.92"/>
<rect x="98.00" y="336.70" width="3.0" height="9.8" fill="#d6e4f4"/>
<rect x="94.70" y="336.50" width="3.7" height="10.0" rx="1.85" fill="#a3bfe4" stroke="#5577b0" stroke-width="0.9"/>
<rect x="100.60" y="336.50" width="3.7" height="10.0" rx="1.85" fill="#a3bfe4" stroke="#5577b0" stroke-width="0.9"/>
<path d="M95.90,336.90 Q97.90,332.50 99.70,336.90" fill="none" stroke="#5577b0" stroke-width="1.0"/>
<path d="M99.50,345.90 Q101.10,349.70 102.70,345.90" fill="none" stroke="#5577b0" stroke-width="1.0"/>
<path d="M21.56,452.22 Q17.17,446.94 21.38,441.32 Q19.47,435.52 24.25,432.06 Q26.46,423.85 34.96,423.97 Q42.31,419.22 49.38,424.37 Q55.38,423.82 57.13,429.74 Q65.91,434.42 63.58,444.10 Q67.25,450.40 61.87,455.09 Q61.21,460.97 55.39,462.32 Q50.65,468.29 43.26,466.39 Q35.23,469.21 29.27,463.08 Q21.39,460.53 21.56,452.22Z" fill="#a9ddc2" stroke="#6fb893" stroke-width="1.3"/>
<ellipse cx="27.34" cy="453.59" rx="2.76" ry="1.70" transform="rotate(240.1 27.34 453.59)" fill="#cbeedb" opacity="0.45"/>
<ellipse cx="25.75" cy="438.54" rx="2.73" ry="1.36" transform="rotate(291.3 25.75 438.54)" fill="#cbeedb" opacity="0.45"/>
<ellipse cx="28.24" cy="434.20" rx="2.48" ry="1.46" transform="rotate(307.5 28.24 434.20)" fill="#cbeedb" opacity="0.45"/>
<ellipse cx="42.77" cy="429.26" rx="2.24" ry="1.82" transform="rotate(361.7 42.77 429.26)" fill="#cbeedb" opacity="0.45"/>
<ellipse cx="49.89" cy="430.95" rx="2.30" ry="1.81" transform="rotate(388.4 49.89 430.95)" fill="#cbeedb" opacity="0.45"/>
<ellipse cx="57.94" cy="440.38" rx="2.83" ry="1.32" transform="rotate(433.5 57.94 440.38)" fill="#cbeedb" opacity="0.45"/>
<ellipse cx="60.81" cy="445.28" rx="2.41" ry="1.79" transform="rotate(450.9 60.81 445.28)" fill="#cbeedb" opacity="0.45"/>
<ellipse cx="55.74" cy="457.28" rx="2.35" ry="1.86" transform="rotate(492.4 55.74 457.28)" fill="#cbeedb" opacity="0.45"/>
<ellipse cx="46.54" cy="460.55" rx="3.04" ry="1.89" transform="rotate(524.7 46.54 460.55)" fill="#cbeedb" opacity="0.45"/>
<ellipse cx="31.49" cy="458.54" rx="3.02" ry="1.93" transform="rotate(578.6 31.49 458.54)" fill="#cbeedb" opacity="0.45"/>
<path d="M27.20,438.36 A16.50,16.50 0 0 1 28.71,435.65" fill="none" stroke="#6fb893" stroke-width="0.8" stroke-linecap="round" opacity="0.7"/>
<path d="M31.41,429.43 A19.00,19.00 0 0 1 35.69,427.19" fill="none" stroke="#6fb893" stroke-width="0.8" stroke-linecap="round" opacity="0.7"/>
<path d="M41.18,425.08 A19.95,19.95 0 0 1 46.04,425.41" fill="none" stroke="#6fb893" stroke-width="0.8" stroke-linecap="round" opacity="0.7"/>
<path d="M45.58,427.81 A17.50,17.50 0 0 1 51.08,429.86" fill="none" stroke="#6fb893" stroke-width="0.8" stroke-linecap="round" opacity="0.7"/>
<path d="M51.69,433.45 A14.89,14.89 0 0 1 53.53,435.23" fill="none" stroke="#6fb893" stroke-width="0.8" stroke-linecap="round" opacity="0.7"/>
<path d="M57.88,441.24 A16.02,16.02 0 0 1 58.30,444.21" fill="none" stroke="#6fb893" stroke-width="0.8" stroke-linecap="round" opacity="0.7"/>
<path d="M59.65,444.79 A17.35,17.35 0 0 1 59.07,449.43" fill="none" stroke="#6fb893" stroke-width="0.8" stroke-linecap="round" opacity="0.7"/>
<path d="M56.58,455.83 A17.92,17.92 0 0 1 53.60,458.91" fill="none" stroke="#6fb893" stroke-width="0.8" stroke-linecap="round" opacity="0.7"/>
<path d="M54.57,460.58 A19.83,19.83 0 0 1 50.67,462.97" fill="none" stroke="#6fb893" stroke-width="0.8" stroke-linecap="round" opacity="0.7"/>
<path d="M46.10,462.88 A18.28,18.28 0 0 1 42.50,463.28" fill="none" stroke="#6fb893" stroke-width="0.8" stroke-linecap="round" opacity="0.7"/>
<path d="M38.21,459.47 A15.04,15.04 0 0 1 35.28,458.30" fill="none" stroke="#6fb893" stroke-width="0.8" stroke-linecap="round" opacity="0.7"/>
<path d="M29.96,456.54 A16.90,16.90 0 0 1 26.91,451.97" fill="none" stroke="#6fb893" stroke-width="0.8" stroke-linecap="round" opacity="0.7"/>
<path d="M25.09,453.75 A19.31,19.31 0 0 1 23.40,448.96" fill="none" stroke="#6fb893" stroke-width="0.8" stroke-linecap="round" opacity="0.7"/>
<path d="M22.34,440.54 A20.46,20.46 0 0 1 24.79,434.43" fill="none" stroke="#6fb893" stroke-width="0.8" stroke-linecap="round" opacity="0.7"/>
<circle cx="43.10" cy="446.30" r="15.6" fill="none" stroke="#cbeedb" stroke-width="2.2" opacity="0.55"/>
<path d="M46.64,433.52 Q49.32,433.42 50.87,435.59 L54.81,441.12 Q56.36,443.29 55.94,445.94 L54.85,452.70 Q54.43,455.35 51.93,456.38 L45.58,458.98 Q43.08,460.00 40.64,458.93 L34.43,456.21 Q31.99,455.14 31.34,452.49 L29.71,445.73 Q29.06,443.08 30.84,441.05 L35.35,435.89 Q37.13,433.86 39.81,433.76 L46.64,433.52Z" fill="#37aa79" stroke="#6cc59b" stroke-width="1.0"/>
<clipPath id="nc42_445"><path d="M46.64,433.52 Q49.32,433.42 50.87,435.59 L54.81,441.12 Q56.36,443.29 55.94,445.94 L54.85,452.70 Q54.43,455.35 51.93,456.38 L45.58,458.98 Q43.08,460.00 40.64,458.93 L34.43,456.21 Q31.99,455.14 31.34,452.49 L29.71,445.73 Q29.06,443.08 30.84,441.05 L35.35,435.89 Q37.13,433.86 39.81,433.76 L46.64,433.52Z"/></clipPath>
<g clip-path="url(#nc42_445)"><path d="M27.10,449.30 Q39.10,453.30 59.10,448.30 L59.10,462.30 L27.10,462.30Z" fill="#248c5e" opacity="0.35"/><path d="M47.10,432.30 Q56.10,438.30 55.10,452.30" fill="none" stroke="#6cc59b" stroke-width="1.4" opacity="0.5"/></g>
<line x1="42.70" y1="418.60" x2="42.70" y2="431.00" stroke="#1b4a3a" stroke-width="0.75"/>
<rect x="40.90" y="427.80" width="3.6" height="13.0" rx="1.8" fill="#1c6d49" opacity="0.92"/>
<rect x="44.50" y="408.80" width="3.0" height="9.8" fill="#d6e4f4"/>
<rect x="41.20" y="408.60" width="3.7" height="10.0" rx="1.85" fill="#1f9a9c" stroke="#0d6468" stroke-width="0.9"/>
<rect x="47.10" y="408.60" width="3.7" height="10.0" rx="1.85" fill="#1f9a9c" stroke="#0d6468" stroke-width="0.9"/>
<path d="M42.40,409.00 Q44.40,404.60 46.20,409.00" fill="none" stroke="#0d6468" stroke-width="1.0"/>
<path d="M46.00,418.00 Q47.60,421.80 49.20,418.00" fill="none" stroke="#0d6468" stroke-width="1.0"/>
<path d="M78.25,432.25 Q80.66,424.68 88.67,425.08 Q93.40,420.21 99.25,423.44 Q105.55,421.60 108.95,427.14 Q118.45,430.44 117.60,440.46 Q120.61,447.19 115.75,452.76 Q116.76,458.98 110.84,460.72 Q105.97,468.19 97.30,466.13 Q93.10,469.41 89.46,465.89 Q81.39,466.47 79.07,458.70 Q71.27,452.81 74.69,443.67 Q72.11,436.56 78.25,432.25Z" fill="#f8dcc6" stroke="#dcb393" stroke-width="1.3"/>
<ellipse cx="81.33" cy="439.32" rx="3.16" ry="1.31" transform="rotate(291.2 81.33 439.32)" fill="#fcebdd" opacity="0.45"/>
<ellipse cx="88.26" cy="429.22" rx="2.77" ry="1.44" transform="rotate(333.9 88.26 429.22)" fill="#fcebdd" opacity="0.45"/>
<ellipse cx="101.34" cy="427.15" rx="2.51" ry="1.88" transform="rotate(376.7 101.34 427.15)" fill="#fcebdd" opacity="0.45"/>
<ellipse cx="110.48" cy="436.94" rx="2.54" ry="1.51" transform="rotate(420.9 110.48 436.94)" fill="#fcebdd" opacity="0.45"/>
<ellipse cx="112.91" cy="444.29" rx="2.55" ry="1.61" transform="rotate(447.6 112.91 444.29)" fill="#fcebdd" opacity="0.45"/>
<ellipse cx="111.07" cy="453.79" rx="2.34" ry="1.62" transform="rotate(480.2 111.07 453.79)" fill="#fcebdd" opacity="0.45"/>
<ellipse cx="102.26" cy="460.68" rx="3.15" ry="1.62" transform="rotate(518.2 102.26 460.68)" fill="#fcebdd" opacity="0.45"/>
<ellipse cx="93.45" cy="463.59" rx="2.71" ry="1.83" transform="rotate(547.8 93.45 463.59)" fill="#fcebdd" opacity="0.45"/>
<ellipse cx="84.01" cy="456.90" rx="3.17" ry="1.47" transform="rotate(585.2 84.01 456.90)" fill="#fcebdd" opacity="0.45"/>
<ellipse cx="77.59" cy="445.60" rx="2.23" ry="1.38" transform="rotate(628.1 77.59 445.60)" fill="#fcebdd" opacity="0.45"/>
<path d="M100.37,429.45 A16.15,16.15 0 0 1 104.77,431.44" fill="none" stroke="#dcb393" stroke-width="0.8" stroke-linecap="round" opacity="0.7"/>
<path d="M104.76,432.24 A15.48,15.48 0 0 1 107.01,434.13" fill="none" stroke="#dcb393" stroke-width="0.8" stroke-linecap="round" opacity="0.7"/>
<path d="M111.59,437.66 A17.23,17.23 0 0 1 113.13,443.10" fill="none" stroke="#dcb393" stroke-width="0.8" stroke-linecap="round" opacity="0.7"/>
<path d="M110.61,445.50 A14.62,14.62 0 0 1 109.73,450.02" fill="none" stroke="#dcb393" stroke-width="0.8" stroke-linecap="round" opacity="0.7"/>
<path d="M110.61,452.72 A16.52,16.52 0 0 1 109.27,454.84" fill="none" stroke="#dcb393" stroke-width="0.8" stroke-linecap="round" opacity="0.7"/>
<path d="M105.82,461.62 A19.31,19.31 0 0 1 102.65,463.13" fill="none" stroke="#dcb393" stroke-width="0.8" stroke-linecap="round" opacity="0.7"/>
<path d="M97.67,461.67 A16.75,16.75 0 0 1 93.89,461.62" fill="none" stroke="#dcb393" stroke-width="0.8" stroke-linecap="round" opacity="0.7"/>
<path d="M91.17,462.01 A17.68,17.68 0 0 1 87.31,460.40" fill="none" stroke="#dcb393" stroke-width="0.8" stroke-linecap="round" opacity="0.7"/>
<path d="M87.25,457.31 A15.10,15.10 0 0 1 84.04,454.22" fill="none" stroke="#dcb393" stroke-width="0.8" stroke-linecap="round" opacity="0.7"/>
<path d="M76.93,452.42 A20.47,20.47 0 0 1 75.73,447.86" fill="none" stroke="#dcb393" stroke-width="0.8" stroke-linecap="round" opacity="0.7"/>
<path d="M76.72,443.69 A19.33,19.33 0 0 1 78.27,437.31" fill="none" stroke="#dcb393" stroke-width="0.8" stroke-linecap="round" opacity="0.7"/>
<path d="M81.50,436.32 A16.90,16.90 0 0 1 84.47,432.64" fill="none" stroke="#dcb393" stroke-width="0.8" stroke-linecap="round" opacity="0.7"/>
<path d="M85.53,427.78 A20.16,20.16 0 0 1 91.08,425.45" fill="none" stroke="#dcb393" stroke-width="0.8" stroke-linecap="round" opacity="0.7"/>
<path d="M94.98,429.60 A15.43,15.43 0 0 1 97.51,429.64" fill="none" stroke="#dcb393" stroke-width="0.8" stroke-linecap="round" opacity="0.7"/>
<circle cx="96.80" cy="446.30" r="15.6" fill="none" stroke="#fcebdd" stroke-width="2.2" opacity="0.55"/>
<path d="M84.80,454.30 L84.30,443.30 Q85.80,435.30 94.80,434.30 Q106.80,434.30 109.30,443.30 L109.30,454.30 Q96.80,457.30 84.80,454.30Z" fill="#f3c9a6" stroke="#f0bf98" stroke-width="0.8"/>
<path d="M84.80,454.30 Q96.80,462.30 109.30,454.30" fill="none" stroke="#f0bf98" stroke-width="1.2" opacity="0.6"/>
<line x1="83.80" y1="453.50" x2="111.80" y2="453.50" stroke="#d8a07a" stroke-width="0.7"/>
<path d="M88.30,452.30 L88.30,447.80 L96.30,447.80" fill="none" stroke="#1a1a1a" stroke-width="0.9"/>
<path d="M95.30,446.00 L98.10,447.80 L95.30,449.60Z" fill="#1a1a1a"/>
<rect x="90.50" y="450.70" width="15.6" height="5.4" rx="2.7" fill="#dfe6e6" stroke="#555" stroke-width="0.6"/>
<text x="98.30" y="454.70" font-size="3.6" text-anchor="middle" fill="#666" style="stroke:none">FOXO3</text>
<line x1="96.40" y1="418.60" x2="96.40" y2="431.00" stroke="#6a5040" stroke-width="0.75"/>
<rect x="94.60" y="427.80" width="3.6" height="13.0" rx="1.8" fill="#a87c5f" opacity="0.92"/>
<rect x="98.20" y="408.80" width="3.0" height="9.8" fill="#d6e4f4"/>
<rect x="94.90" y="408.60" width="3.7" height="10.0" rx="1.85" fill="#1f9a9c" stroke="#0d6468" stroke-width="0.9"/>
<rect x="100.80" y="408.60" width="3.7" height="10.0" rx="1.85" fill="#1f9a9c" stroke="#0d6468" stroke-width="0.9"/>
<path d="M96.10,409.00 Q98.10,404.60 99.90,409.00" fill="none" stroke="#0d6468" stroke-width="1.0"/>
<path d="M99.70,418.00 Q101.30,421.80 102.90,418.00" fill="none" stroke="#0d6468" stroke-width="1.0"/>
<text x="31.58" y="55.60" font-size="9.6" fill="#231f20" textLength="23.92" lengthAdjust="spacingAndGlyphs">19/28</text>
<text x="88.39" y="46.60" font-size="9.6" fill="#231f20" textLength="23.82" lengthAdjust="spacingAndGlyphs">19/28</text>
<text x="80.13" y="56.50" font-size="9.6" fill="#231f20" textLength="30.92" lengthAdjust="spacingAndGlyphs" font-style="italic">FOXO3</text>
<text x="110.83" y="53.30" font-size="6.9" fill="#231f20" textLength="10.22" lengthAdjust="spacingAndGlyphs">KO</text>
<text x="31.59" y="218.50" font-size="9.6" fill="#231f20" textLength="25.93" lengthAdjust="spacingAndGlyphs">19/BB</text>
<text x="88.41" y="218.50" font-size="9.6" fill="#231f20" textLength="25.09" lengthAdjust="spacingAndGlyphs">19/BB</text>
<text x="80.53" y="228.50" font-size="9.6" fill="#231f20" textLength="30.31" lengthAdjust="spacingAndGlyphs" font-style="italic">FOXO3</text>
<text x="111.12" y="225.30" font-size="6.9" fill="#231f20" textLength="8.68" lengthAdjust="spacingAndGlyphs">KO</text>
<text x="30.08" y="321.70" font-size="9.6" fill="#231f20" textLength="24.13" lengthAdjust="spacingAndGlyphs">19/28</text>
<text x="85.49" y="312.90" font-size="9.6" fill="#231f20" textLength="23.71" lengthAdjust="spacingAndGlyphs">19/28</text>
<text x="76.63" y="322.50" font-size="9.6" fill="#231f20" textLength="30.41" lengthAdjust="spacingAndGlyphs" font-style="italic">FOXO3</text>
<text x="108.00" y="319.30" font-size="6.9" fill="#231f20" textLength="9.77" lengthAdjust="spacingAndGlyphs">OE</text>
<text x="28.10" y="481.80" font-size="9.6" fill="#231f20" textLength="25.41" lengthAdjust="spacingAndGlyphs">19/BB</text>
<text x="82.90" y="481.80" font-size="9.6" fill="#231f20" textLength="25.41" lengthAdjust="spacingAndGlyphs">19/BB</text>
<text x="75.24" y="492.80" font-size="9.6" fill="#231f20" textLength="29.81" lengthAdjust="spacingAndGlyphs" font-style="italic">FOXO3</text>
<text x="106.00" y="489.60" font-size="6.9" fill="#231f20" textLength="9.77" lengthAdjust="spacingAndGlyphs">OE</text>
<rect x="193.00" y="104.75" width="8.10" height="6.65" fill="#4b6fb8"/>
<line x1="194.65" y1="104.65" x2="199.45" y2="104.65" stroke="#293d65" stroke-width="1.2"/>
<line x1="193.30" y1="105.15" x2="200.80" y2="105.15" stroke="#293d65" stroke-width="0.8"/>
<rect x="206.00" y="104.75" width="8.10" height="6.65" fill="#6d4fa8"/>
<line x1="207.65" y1="104.65" x2="212.45" y2="104.65" stroke="#3b2b5c" stroke-width="1.2"/>
<line x1="206.30" y1="105.15" x2="213.80" y2="105.15" stroke="#3b2b5c" stroke-width="0.8"/>
<rect x="240.33" y="108.00" width="8.10" height="3.40" fill="#6d4fa8"/>
<line x1="241.98" y1="107.90" x2="246.78" y2="107.90" stroke="#3b2b5c" stroke-width="1.2"/>
<line x1="240.63" y1="108.40" x2="248.13" y2="108.40" stroke="#3b2b5c" stroke-width="0.8"/>
<rect x="261.66" y="110.70" width="8.10" height="0.70" fill="#4b6fb8"/>
<rect x="274.66" y="110.10" width="8.10" height="1.30" fill="#6d4fa8"/>
<rect x="295.99" y="108.10" width="8.10" height="3.30" fill="#4b6fb8"/>
<line x1="297.64" y1="108.00" x2="302.44" y2="108.00" stroke="#293d65" stroke-width="1.2"/>
<line x1="296.29" y1="108.50" x2="303.79" y2="108.50" stroke="#293d65" stroke-width="0.8"/>
<rect x="308.99" y="107.10" width="8.10" height="4.30" fill="#6d4fa8"/>
<line x1="310.64" y1="107.00" x2="315.44" y2="107.00" stroke="#3b2b5c" stroke-width="1.2"/>
<line x1="309.29" y1="107.50" x2="316.79" y2="107.50" stroke="#3b2b5c" stroke-width="0.8"/>
<rect x="330.32" y="101.50" width="8.10" height="9.90" fill="#4b6fb8"/>
<line x1="331.97" y1="101.40" x2="336.77" y2="101.40" stroke="#293d65" stroke-width="1.2"/>
<line x1="330.62" y1="101.90" x2="338.12" y2="101.90" stroke="#293d65" stroke-width="0.8"/>
<rect x="343.32" y="101.50" width="8.10" height="9.90" fill="#6d4fa8"/>
<line x1="344.97" y1="101.40" x2="349.77" y2="101.40" stroke="#3b2b5c" stroke-width="1.2"/>
<line x1="343.62" y1="101.90" x2="351.12" y2="101.90" stroke="#3b2b5c" stroke-width="0.8"/>
<rect x="364.65" y="83.60" width="8.10" height="27.80" fill="#4b6fb8"/>
<line x1="366.30" y1="83.50" x2="371.10" y2="83.50" stroke="#293d65" stroke-width="1.2"/>
<line x1="364.95" y1="84.00" x2="372.45" y2="84.00" stroke="#293d65" stroke-width="0.8"/>
<rect x="377.65" y="69.00" width="8.10" height="42.40" fill="#6d4fa8"/>
<line x1="379.30" y1="68.90" x2="384.10" y2="68.90" stroke="#3b2b5c" stroke-width="1.2"/>
<line x1="377.95" y1="69.40" x2="385.45" y2="69.40" stroke="#3b2b5c" stroke-width="0.8"/>
<line x1="190.20" y1="104.75" x2="390.40" y2="104.75" stroke="#231f20" stroke-width="0.9" stroke-dasharray="1.05,1.1"/>
<line x1="189.00" y1="24.00" x2="189.00" y2="112.00" stroke="#1e1e1e" stroke-width="1.35"/>
<line x1="185.50" y1="27.40" x2="189.00" y2="27.40" stroke="#1e1e1e" stroke-width="1.0"/>
<line x1="185.50" y1="69.40" x2="189.00" y2="69.40" stroke="#1e1e1e" stroke-width="1.0"/>
<line x1="185.50" y1="111.40" x2="189.00" y2="111.40" stroke="#1e1e1e" stroke-width="1.0"/>
<text x="166.18" y="30.30" font-size="9.6" fill="#231f20" textLength="15.68" lengthAdjust="spacingAndGlyphs">100</text>
<text x="171.40" y="72.30" font-size="9.6" fill="#231f20" textLength="10.46" lengthAdjust="spacingAndGlyphs">50</text>
<text x="176.61" y="114.30" font-size="9.6" fill="#231f20" textLength="5.23" lengthAdjust="spacingAndGlyphs">0</text>
<line x1="185.20" y1="111.40" x2="390.40" y2="111.40" stroke="#1e1e1e" stroke-width="1.35"/>
<line x1="203.75" y1="111.40" x2="203.75" y2="114.10" stroke="#1e1e1e" stroke-width="1.0"/>
<text x="201.12" y="125.90" font-size="9.6" fill="#231f20" textLength="5.23" lengthAdjust="spacingAndGlyphs">0</text>
<line x1="238.08" y1="111.40" x2="238.08" y2="114.10" stroke="#1e1e1e" stroke-width="1.0"/>
<text x="235.47" y="125.90" font-size="9.6" fill="#231f20" textLength="5.23" lengthAdjust="spacingAndGlyphs">3</text>
<line x1="272.41" y1="111.40" x2="272.41" y2="114.10" stroke="#1e1e1e" stroke-width="1.0"/>
<text x="267.00" y="125.90" font-size="9.6" fill="#231f20" textLength="10.46" lengthAdjust="spacingAndGlyphs">10</text>
<line x1="306.74" y1="111.40" x2="306.74" y2="114.10" stroke="#1e1e1e" stroke-width="1.0"/>
<text x="301.31" y="125.90" font-size="9.6" fill="#231f20" textLength="10.46" lengthAdjust="spacingAndGlyphs">14</text>
<line x1="341.07" y1="111.40" x2="341.07" y2="114.10" stroke="#1e1e1e" stroke-width="1.0"/>
<text x="335.74" y="125.90" font-size="9.6" fill="#231f20" textLength="10.46" lengthAdjust="spacingAndGlyphs">17</text>
<line x1="375.40" y1="111.40" x2="375.40" y2="114.10" stroke="#1e1e1e" stroke-width="1.0"/>
<text x="370.04" y="125.90" font-size="9.6" fill="#231f20" textLength="10.46" lengthAdjust="spacingAndGlyphs">19</text>
<line x1="366.80" y1="64.80" x2="382.90" y2="64.80" stroke="#231f20" stroke-width="1.15"/>
<path d="M372.88,58.70 L372.88,61.90 M371.49,59.50 L374.26,61.10 M374.26,59.50 L371.49,61.10 " stroke="#231f20" stroke-width="1.05" stroke-linecap="round"/>
<path d="M376.73,58.70 L376.73,61.90 M375.34,59.50 L378.11,61.10 M378.11,59.50 L375.34,61.10 " stroke="#231f20" stroke-width="1.05" stroke-linecap="round"/>
<rect x="192.40" y="29.60" width="6.80" height="6.00" fill="#4b6fb8"/>
<text x="203.76" y="35.00" font-size="9.0" fill="#231f20" textLength="21.20" lengthAdjust="spacingAndGlyphs">19/28</text>
<rect x="192.40" y="46.30" width="6.80" height="6.00" fill="#6d4fa8"/>
<text x="203.76" y="52.00" font-size="9.0" fill="#231f20" textLength="21.20" lengthAdjust="spacingAndGlyphs">19/28</text>
<text x="229.21" y="52.00" font-size="9.0" fill="#231f20" textLength="32.63" lengthAdjust="spacingAndGlyphs" font-style="italic">FOXO3</text>
<text x="261.74" y="48.30" font-size="6.6" fill="#231f20" textLength="10.11" lengthAdjust="spacingAndGlyphs">KO</text>
<rect x="193.00" y="223.75" width="8.10" height="6.55" fill="#54a474"/>
<line x1="194.65" y1="223.65" x2="199.45" y2="223.65" stroke="#2e5a3f" stroke-width="1.2"/>
<line x1="193.30" y1="224.15" x2="200.80" y2="224.15" stroke="#2e5a3f" stroke-width="0.8"/>
<rect x="206.00" y="223.75" width="8.10" height="6.55" fill="#ada85b"/>
<line x1="207.65" y1="223.65" x2="212.45" y2="223.65" stroke="#5f5c32" stroke-width="1.2"/>
<line x1="206.30" y1="224.15" x2="213.80" y2="224.15" stroke="#5f5c32" stroke-width="0.8"/>
<rect x="227.90" y="227.40" width="8.10" height="2.90" fill="#54a474"/>
<line x1="229.55" y1="227.30" x2="234.35" y2="227.30" stroke="#2e5a3f" stroke-width="1.2"/>
<line x1="228.20" y1="227.80" x2="235.70" y2="227.80" stroke="#2e5a3f" stroke-width="0.8"/>
<rect x="240.90" y="228.40" width="8.10" height="1.90" fill="#ada85b"/>
<rect x="262.80" y="227.40" width="8.10" height="2.90" fill="#54a474"/>
<line x1="264.45" y1="227.30" x2="269.25" y2="227.30" stroke="#2e5a3f" stroke-width="1.2"/>
<line x1="263.10" y1="227.80" x2="270.60" y2="227.80" stroke="#2e5a3f" stroke-width="0.8"/>
<rect x="275.80" y="228.40" width="8.10" height="1.90" fill="#ada85b"/>
<rect x="297.70" y="217.00" width="8.10" height="13.30" fill="#54a474"/>
<line x1="299.35" y1="216.90" x2="304.15" y2="216.90" stroke="#2e5a3f" stroke-width="1.2"/>
<line x1="298.00" y1="217.40" x2="305.50" y2="217.40" stroke="#2e5a3f" stroke-width="0.8"/>
<rect x="310.70" y="223.00" width="8.10" height="7.30" fill="#ada85b"/>
<line x1="312.35" y1="222.90" x2="317.15" y2="222.90" stroke="#5f5c32" stroke-width="1.2"/>
<line x1="311.00" y1="223.40" x2="318.50" y2="223.40" stroke="#5f5c32" stroke-width="0.8"/>
<rect x="332.60" y="188.00" width="8.10" height="42.30" fill="#54a474"/>
<line x1="336.65" y1="184.40" x2="336.65" y2="188.50" stroke="#555" stroke-width="1.0"/>
<line x1="334.25" y1="184.40" x2="339.05" y2="184.40" stroke="#3a3a3a" stroke-width="1.2"/>
<line x1="332.90" y1="188.40" x2="340.40" y2="188.40" stroke="#2e5a3f" stroke-width="0.8"/>
<rect x="345.60" y="206.70" width="8.10" height="23.60" fill="#ada85b"/>
<line x1="349.65" y1="205.00" x2="349.65" y2="207.20" stroke="#555" stroke-width="1.0"/>
<line x1="347.25" y1="205.00" x2="352.05" y2="205.00" stroke="#3a3a3a" stroke-width="1.2"/>
<line x1="345.90" y1="207.10" x2="353.40" y2="207.10" stroke="#5f5c32" stroke-width="0.8"/>
<rect x="367.50" y="157.00" width="8.10" height="73.30" fill="#54a474"/>
<line x1="371.55" y1="153.00" x2="371.55" y2="157.50" stroke="#555" stroke-width="1.0"/>
<line x1="369.15" y1="153.00" x2="373.95" y2="153.00" stroke="#3a3a3a" stroke-width="1.2"/>
<line x1="367.80" y1="157.40" x2="375.30" y2="157.40" stroke="#2e5a3f" stroke-width="0.8"/>
<rect x="380.50" y="187.50" width="8.10" height="42.80" fill="#ada85b"/>
<line x1="384.55" y1="186.00" x2="384.55" y2="188.00" stroke="#555" stroke-width="1.0"/>
<line x1="382.15" y1="186.00" x2="386.95" y2="186.00" stroke="#3a3a3a" stroke-width="1.2"/>
<line x1="380.80" y1="187.90" x2="388.30" y2="187.90" stroke="#5f5c32" stroke-width="0.8"/>
<line x1="190.20" y1="223.40" x2="394.00" y2="223.40" stroke="#231f20" stroke-width="0.9" stroke-dasharray="1.05,1.1"/>
<line x1="189.00" y1="141.00" x2="189.00" y2="230.90" stroke="#1e1e1e" stroke-width="1.35"/>
<line x1="185.50" y1="144.00" x2="189.00" y2="144.00" stroke="#1e1e1e" stroke-width="1.0"/>
<line x1="185.50" y1="187.10" x2="189.00" y2="187.10" stroke="#1e1e1e" stroke-width="1.0"/>
<line x1="185.50" y1="230.30" x2="189.00" y2="230.30" stroke="#1e1e1e" stroke-width="1.0"/>
<text x="166.18" y="146.90" font-size="9.6" fill="#231f20" textLength="15.68" lengthAdjust="spacingAndGlyphs">100</text>
<text x="171.40" y="190.00" font-size="9.6" fill="#231f20" textLength="10.46" lengthAdjust="spacingAndGlyphs">50</text>
<text x="176.61" y="233.20" font-size="9.6" fill="#231f20" textLength="5.23" lengthAdjust="spacingAndGlyphs">0</text>
<line x1="185.20" y1="230.30" x2="394.00" y2="230.30" stroke="#1e1e1e" stroke-width="1.35"/>
<line x1="203.75" y1="230.30" x2="203.75" y2="233.00" stroke="#1e1e1e" stroke-width="1.0"/>
<text x="201.12" y="244.80" font-size="9.6" fill="#231f20" textLength="5.23" lengthAdjust="spacingAndGlyphs">0</text>
<line x1="238.65" y1="230.30" x2="238.65" y2="233.00" stroke="#1e1e1e" stroke-width="1.0"/>
<text x="236.04" y="244.80" font-size="9.6" fill="#231f20" textLength="5.23" lengthAdjust="spacingAndGlyphs">3</text>
<line x1="273.55" y1="230.30" x2="273.55" y2="233.00" stroke="#1e1e1e" stroke-width="1.0"/>
<text x="268.15" y="244.80" font-size="9.6" fill="#231f20" textLength="10.46" lengthAdjust="spacingAndGlyphs">10</text>
<line x1="308.45" y1="230.30" x2="308.45" y2="233.00" stroke="#1e1e1e" stroke-width="1.0"/>
<text x="303.02" y="244.80" font-size="9.6" fill="#231f20" textLength="10.46" lengthAdjust="spacingAndGlyphs">14</text>
<line x1="343.35" y1="230.30" x2="343.35" y2="233.00" stroke="#1e1e1e" stroke-width="1.0"/>
<text x="338.02" y="244.80" font-size="9.6" fill="#231f20" textLength="10.46" lengthAdjust="spacingAndGlyphs">17</text>
<line x1="378.25" y1="230.30" x2="378.25" y2="233.00" stroke="#1e1e1e" stroke-width="1.0"/>
<text x="372.89" y="244.80" font-size="9.6" fill="#231f20" textLength="10.46" lengthAdjust="spacingAndGlyphs">19</text>
<line x1="300.00" y1="209.70" x2="316.70" y2="209.70" stroke="#231f20" stroke-width="1.15"/>
<path d="M306.47,203.60 L306.47,206.80 M305.09,204.40 L307.86,206.00 M307.86,204.40 L305.09,206.00 " stroke="#231f20" stroke-width="1.05" stroke-linecap="round"/>
<path d="M310.32,203.60 L310.32,206.80 M308.94,204.40 L311.71,206.00 M311.71,204.40 L308.94,206.00 " stroke="#231f20" stroke-width="1.05" stroke-linecap="round"/>
<line x1="334.80" y1="179.40" x2="351.60" y2="179.40" stroke="#231f20" stroke-width="1.15"/>
<path d="M337.43,173.00 L337.43,176.20 M336.04,173.80 L338.81,175.40 M338.81,173.80 L336.04,175.40 " stroke="#231f20" stroke-width="1.05" stroke-linecap="round"/>
<path d="M341.28,173.00 L341.28,176.20 M339.89,173.80 L342.66,175.40 M342.66,173.80 L339.89,175.40 " stroke="#231f20" stroke-width="1.05" stroke-linecap="round"/>
<path d="M345.13,173.00 L345.13,176.20 M343.74,173.80 L346.51,175.40 M346.51,173.80 L343.74,175.40 " stroke="#231f20" stroke-width="1.05" stroke-linecap="round"/>
<path d="M348.98,173.00 L348.98,176.20 M347.59,173.80 L350.36,175.40 M350.36,173.80 L347.59,175.40 " stroke="#231f20" stroke-width="1.05" stroke-linecap="round"/>
<line x1="370.40" y1="148.00" x2="386.60" y2="148.00" stroke="#231f20" stroke-width="1.15"/>
<path d="M372.62,141.80 L372.62,145.00 M371.24,142.60 L374.01,144.20 M374.01,142.60 L371.24,144.20 " stroke="#231f20" stroke-width="1.05" stroke-linecap="round"/>
<path d="M376.48,141.80 L376.48,145.00 M375.09,142.60 L377.86,144.20 M377.86,142.60 L375.09,144.20 " stroke="#231f20" stroke-width="1.05" stroke-linecap="round"/>
<path d="M380.33,141.80 L380.33,145.00 M378.94,142.60 L381.71,144.20 M381.71,142.60 L378.94,144.20 " stroke="#231f20" stroke-width="1.05" stroke-linecap="round"/>
<path d="M384.18,141.80 L384.18,145.00 M382.79,142.60 L385.56,144.20 M385.56,142.60 L382.79,144.20 " stroke="#231f20" stroke-width="1.05" stroke-linecap="round"/>
<rect x="192.80" y="146.20" width="6.60" height="6.20" fill="#54a474"/>
<text x="203.35" y="152.00" font-size="9.0" fill="#231f20" textLength="23.62" lengthAdjust="spacingAndGlyphs">19/BB</text>
<rect x="192.80" y="163.40" width="6.60" height="6.20" fill="#ada85b"/>
<text x="203.35" y="169.20" font-size="9.0" fill="#231f20" textLength="23.62" lengthAdjust="spacingAndGlyphs">19/BB</text>
<text x="231.43" y="169.20" font-size="9.0" fill="#231f20" textLength="30.21" lengthAdjust="spacingAndGlyphs" font-style="italic">FOXO3</text>
<text x="261.66" y="165.20" font-size="6.6" fill="#231f20" textLength="9.78" lengthAdjust="spacingAndGlyphs">KO</text>
<text x="159.70" y="171.19" font-size="10.8" fill="#231f20" textLength="87.37" lengthAdjust="spacingAndGlyphs" transform="rotate(-90 159.70 171.19)">Nalm6 cells/CAR T cell</text>
<line x1="454.75" y1="22.00" x2="454.75" y2="112.00" stroke="#1e1e1e" stroke-width="1.35"/>
<line x1="451.25" y1="25.30" x2="454.75" y2="25.30" stroke="#1e1e1e" stroke-width="1.0"/>
<line x1="451.25" y1="68.30" x2="454.75" y2="68.30" stroke="#1e1e1e" stroke-width="1.0"/>
<line x1="451.25" y1="111.40" x2="454.75" y2="111.40" stroke="#1e1e1e" stroke-width="1.0"/>
<text x="437.44" y="28.20" font-size="9.6" fill="#231f20" textLength="10.46" lengthAdjust="spacingAndGlyphs">22</text>
<text x="437.44" y="71.20" font-size="9.6" fill="#231f20" textLength="10.46" lengthAdjust="spacingAndGlyphs">17</text>
<text x="437.44" y="114.30" font-size="9.6" fill="#231f20" textLength="10.46" lengthAdjust="spacingAndGlyphs">12</text>
<line x1="454.75" y1="111.40" x2="512.00" y2="111.40" stroke="#1e1e1e" stroke-width="1.35"/>
<line x1="470.00" y1="33.50" x2="496.00" y2="33.50" stroke="#231f20" stroke-width="1.15"/>
<text x="479.08" y="29.60" font-size="9.6" fill="#231f20" textLength="8.70" lengthAdjust="spacingAndGlyphs" font-style="italic">ns</text>
<circle cx="470.60" cy="50.40" r="5.50" fill="#4c6bbb" fill-opacity="0.9" stroke="#121838" stroke-width="1.2" stroke-opacity="0.9" style="mix-blend-mode:multiply"/>
<circle cx="470.60" cy="59.40" r="5.50" fill="#4c6bbb" fill-opacity="0.9" stroke="#121838" stroke-width="1.2" stroke-opacity="0.9" style="mix-blend-mode:multiply"/>
<circle cx="468.80" cy="77.20" r="5.50" fill="#4c6bbb" fill-opacity="0.9" stroke="#121838" stroke-width="1.2" stroke-opacity="0.9" style="mix-blend-mode:multiply"/>
<circle cx="469.40" cy="68.00" r="5.50" fill="#4c6bbb" fill-opacity="0.9" stroke="#121838" stroke-width="1.2" stroke-opacity="0.9" style="mix-blend-mode:multiply"/>
<circle cx="471.80" cy="68.00" r="5.50" fill="#4c6bbb" fill-opacity="0.9" stroke="#121838" stroke-width="1.2" stroke-opacity="0.9" style="mix-blend-mode:multiply"/>
<circle cx="495.60" cy="59.20" r="5.50" fill="#5242aa" fill-opacity="0.9" stroke="#130d40" stroke-width="1.2" stroke-opacity="0.9" style="mix-blend-mode:multiply"/>
<circle cx="494.40" cy="68.00" r="5.50" fill="#5242aa" fill-opacity="0.9" stroke="#130d40" stroke-width="1.2" stroke-opacity="0.9" style="mix-blend-mode:multiply"/>
<circle cx="496.80" cy="68.00" r="5.50" fill="#5242aa" fill-opacity="0.9" stroke="#130d40" stroke-width="1.2" stroke-opacity="0.9" style="mix-blend-mode:multiply"/>
<line x1="460.60" y1="68.20" x2="481.00" y2="68.20" stroke="#111" stroke-width="1.1"/>
<line x1="485.60" y1="68.00" x2="506.00" y2="68.00" stroke="#111" stroke-width="1.1"/>
<line x1="454.75" y1="141.00" x2="454.75" y2="231.00" stroke="#1e1e1e" stroke-width="1.35"/>
<line x1="451.25" y1="144.00" x2="454.75" y2="144.00" stroke="#1e1e1e" stroke-width="1.0"/>
<line x1="451.25" y1="187.20" x2="454.75" y2="187.20" stroke="#1e1e1e" stroke-width="1.0"/>
<line x1="451.25" y1="230.40" x2="454.75" y2="230.40" stroke="#1e1e1e" stroke-width="1.0"/>
<text x="437.44" y="146.90" font-size="9.6" fill="#231f20" textLength="10.46" lengthAdjust="spacingAndGlyphs">22</text>
<text x="437.44" y="190.10" font-size="9.6" fill="#231f20" textLength="10.46" lengthAdjust="spacingAndGlyphs">17</text>
<text x="437.44" y="233.30" font-size="9.6" fill="#231f20" textLength="10.46" lengthAdjust="spacingAndGlyphs">12</text>
<line x1="454.75" y1="230.40" x2="512.00" y2="230.40" stroke="#1e1e1e" stroke-width="1.35"/>
<line x1="470.50" y1="148.00" x2="496.00" y2="148.00" stroke="#231f20" stroke-width="1.15"/>
<path d="M479.35,141.80 L479.35,145.00 M477.96,142.60 L480.74,144.20 M480.74,142.60 L477.96,144.20 " stroke="#231f20" stroke-width="1.05" stroke-linecap="round"/>
<path d="M483.20,141.80 L483.20,145.00 M481.81,142.60 L484.59,144.20 M484.59,142.60 L481.81,144.20 " stroke="#231f20" stroke-width="1.05" stroke-linecap="round"/>
<path d="M487.05,141.80 L487.05,145.00 M485.66,142.60 L488.44,144.20 M488.44,142.60 L485.66,144.20 " stroke="#231f20" stroke-width="1.05" stroke-linecap="round"/>
<circle cx="470.50" cy="195.00" r="5.50" fill="#3f9e66" fill-opacity="0.9" stroke="#0c3a20" stroke-width="1.2" stroke-opacity="0.9" style="mix-blend-mode:multiply"/>
<circle cx="470.50" cy="204.50" r="5.50" fill="#3f9e66" fill-opacity="0.9" stroke="#0c3a20" stroke-width="1.2" stroke-opacity="0.9" style="mix-blend-mode:multiply"/>
<circle cx="471.50" cy="206.00" r="5.50" fill="#3f9e66" fill-opacity="0.9" stroke="#0c3a20" stroke-width="1.2" stroke-opacity="0.9" style="mix-blend-mode:multiply"/>
<circle cx="470.50" cy="212.50" r="5.50" fill="#3f9e66" fill-opacity="0.9" stroke="#0c3a20" stroke-width="1.2" stroke-opacity="0.9" style="mix-blend-mode:multiply"/>
<circle cx="471.50" cy="213.00" r="5.50" fill="#3f9e66" fill-opacity="0.9" stroke="#0c3a20" stroke-width="1.2" stroke-opacity="0.9" style="mix-blend-mode:multiply"/>
<circle cx="469.50" cy="221.00" r="5.50" fill="#3f9e66" fill-opacity="0.9" stroke="#0c3a20" stroke-width="1.2" stroke-opacity="0.9" style="mix-blend-mode:multiply"/>
<circle cx="497.50" cy="161.00" r="5.50" fill="#b5ad58" fill-opacity="0.9" stroke="#3a350c" stroke-width="1.2" stroke-opacity="0.9" style="mix-blend-mode:multiply"/>
<circle cx="492.50" cy="170.00" r="5.50" fill="#b5ad58" fill-opacity="0.9" stroke="#3a350c" stroke-width="1.2" stroke-opacity="0.9" style="mix-blend-mode:multiply"/>
<circle cx="492.50" cy="187.00" r="5.50" fill="#b5ad58" fill-opacity="0.9" stroke="#3a350c" stroke-width="1.2" stroke-opacity="0.9" style="mix-blend-mode:multiply"/>
<circle cx="497.50" cy="187.00" r="5.50" fill="#b5ad58" fill-opacity="0.9" stroke="#3a350c" stroke-width="1.2" stroke-opacity="0.9" style="mix-blend-mode:multiply"/>
<circle cx="498.00" cy="195.50" r="5.50" fill="#b5ad58" fill-opacity="0.9" stroke="#3a350c" stroke-width="1.2" stroke-opacity="0.9" style="mix-blend-mode:multiply"/>
<circle cx="493.00" cy="204.50" r="5.50" fill="#b5ad58" fill-opacity="0.9" stroke="#3a350c" stroke-width="1.2" stroke-opacity="0.9" style="mix-blend-mode:multiply"/>
<line x1="461.00" y1="209.00" x2="481.00" y2="209.00" stroke="#111" stroke-width="1.1"/>
<line x1="486.00" y1="187.00" x2="505.50" y2="187.00" stroke="#111" stroke-width="1.1"/>
<text x="430.90" y="176.61" font-size="11" fill="#231f20" textLength="96.66" lengthAdjust="spacingAndGlyphs" transform="rotate(-90 430.90 176.61)">Day of dysfunction onset</text>
<rect x="190.85" y="357.50" width="8.10" height="17.00" fill="#4b6fb8"/>
<line x1="192.50" y1="357.40" x2="197.30" y2="357.40" stroke="#293d65" stroke-width="1.2"/>
<line x1="191.15" y1="357.90" x2="198.65" y2="357.90" stroke="#293d65" stroke-width="0.8"/>
<rect x="203.85" y="357.50" width="8.10" height="17.00" fill="#b44c36"/>
<line x1="205.50" y1="357.40" x2="210.30" y2="357.40" stroke="#63291d" stroke-width="1.2"/>
<line x1="204.15" y1="357.90" x2="211.65" y2="357.90" stroke="#63291d" stroke-width="0.8"/>
<rect x="295.40" y="372.90" width="8.10" height="1.60" fill="#4b6fb8"/>
<rect x="308.40" y="373.70" width="8.10" height="0.80" fill="#b44c36"/>
<rect x="330.25" y="366.50" width="8.10" height="8.00" fill="#4b6fb8"/>
<line x1="334.30" y1="362.30" x2="334.30" y2="367.00" stroke="#555" stroke-width="1.0"/>
<line x1="331.90" y1="362.30" x2="336.70" y2="362.30" stroke="#3a3a3a" stroke-width="1.2"/>
<line x1="330.55" y1="366.90" x2="338.05" y2="366.90" stroke="#293d65" stroke-width="0.8"/>
<rect x="343.25" y="358.80" width="8.10" height="15.70" fill="#b44c36"/>
<line x1="347.30" y1="357.00" x2="347.30" y2="359.30" stroke="#555" stroke-width="1.0"/>
<line x1="344.90" y1="357.00" x2="349.70" y2="357.00" stroke="#3a3a3a" stroke-width="1.2"/>
<line x1="343.55" y1="359.20" x2="351.05" y2="359.20" stroke="#63291d" stroke-width="0.8"/>
<rect x="365.10" y="319.00" width="8.10" height="55.50" fill="#4b6fb8"/>
<line x1="369.15" y1="297.70" x2="369.15" y2="319.50" stroke="#555" stroke-width="1.0"/>
<line x1="366.75" y1="297.70" x2="371.55" y2="297.70" stroke="#3a3a3a" stroke-width="1.2"/>
<line x1="365.40" y1="319.40" x2="372.90" y2="319.40" stroke="#293d65" stroke-width="0.8"/>
<rect x="378.10" y="329.00" width="8.10" height="45.50" fill="#b44c36"/>
<line x1="382.15" y1="326.70" x2="382.15" y2="329.50" stroke="#555" stroke-width="1.0"/>
<line x1="379.75" y1="326.70" x2="384.55" y2="326.70" stroke="#3a3a3a" stroke-width="1.2"/>
<line x1="378.40" y1="329.40" x2="385.90" y2="329.40" stroke="#63291d" stroke-width="0.8"/>
<line x1="190.20" y1="357.70" x2="391.30" y2="357.70" stroke="#231f20" stroke-width="0.9" stroke-dasharray="1.05,1.1"/>
<line x1="186.60" y1="285.30" x2="186.60" y2="375.10" stroke="#1e1e1e" stroke-width="1.35"/>
<line x1="183.10" y1="288.75" x2="186.60" y2="288.75" stroke="#1e1e1e" stroke-width="1.0"/>
<line x1="183.10" y1="310.10" x2="186.60" y2="310.10" stroke="#1e1e1e" stroke-width="1.0"/>
<line x1="183.10" y1="331.50" x2="186.60" y2="331.50" stroke="#1e1e1e" stroke-width="1.0"/>
<line x1="183.10" y1="352.90" x2="186.60" y2="352.90" stroke="#1e1e1e" stroke-width="1.0"/>
<line x1="183.10" y1="374.50" x2="186.60" y2="374.50" stroke="#1e1e1e" stroke-width="1.0"/>
<text x="169.30" y="291.65" font-size="9.6" fill="#231f20" textLength="10.46" lengthAdjust="spacingAndGlyphs">40</text>
<text x="169.29" y="313.00" font-size="9.6" fill="#231f20" textLength="10.46" lengthAdjust="spacingAndGlyphs">30</text>
<text x="169.30" y="334.40" font-size="9.6" fill="#231f20" textLength="10.46" lengthAdjust="spacingAndGlyphs">20</text>
<text x="169.29" y="355.80" font-size="9.6" fill="#231f20" textLength="10.46" lengthAdjust="spacingAndGlyphs">10</text>
<text x="174.51" y="377.40" font-size="9.6" fill="#231f20" textLength="5.23" lengthAdjust="spacingAndGlyphs">0</text>
<line x1="183.60" y1="374.50" x2="391.30" y2="374.50" stroke="#1e1e1e" stroke-width="1.35"/>
<line x1="201.60" y1="374.50" x2="201.60" y2="377.20" stroke="#1e1e1e" stroke-width="1.0"/>
<text x="198.97" y="389.00" font-size="9.6" fill="#231f20" textLength="5.23" lengthAdjust="spacingAndGlyphs">0</text>
<line x1="236.45" y1="374.50" x2="236.45" y2="377.20" stroke="#1e1e1e" stroke-width="1.0"/>
<text x="233.79" y="389.00" font-size="9.6" fill="#231f20" textLength="5.23" lengthAdjust="spacingAndGlyphs">6</text>
<line x1="271.30" y1="374.50" x2="271.30" y2="377.20" stroke="#1e1e1e" stroke-width="1.0"/>
<text x="265.90" y="389.00" font-size="9.6" fill="#231f20" textLength="10.46" lengthAdjust="spacingAndGlyphs">10</text>
<line x1="306.15" y1="374.50" x2="306.15" y2="377.20" stroke="#1e1e1e" stroke-width="1.0"/>
<text x="300.72" y="389.00" font-size="9.6" fill="#231f20" textLength="10.46" lengthAdjust="spacingAndGlyphs">14</text>
<line x1="341.00" y1="374.50" x2="341.00" y2="377.20" stroke="#1e1e1e" stroke-width="1.0"/>
<text x="335.62" y="389.00" font-size="9.6" fill="#231f20" textLength="10.46" lengthAdjust="spacingAndGlyphs">16</text>
<line x1="375.85" y1="374.50" x2="375.85" y2="377.20" stroke="#1e1e1e" stroke-width="1.0"/>
<text x="370.56" y="389.00" font-size="9.6" fill="#231f20" textLength="10.46" lengthAdjust="spacingAndGlyphs">20</text>
<line x1="368.30" y1="293.00" x2="384.20" y2="293.00" stroke="#231f20" stroke-width="1.15"/>
<text x="372.07" y="289.60" font-size="9.6" fill="#231f20" textLength="9.11" lengthAdjust="spacingAndGlyphs" font-style="italic">ns</text>
<rect x="190.30" y="290.40" width="6.60" height="6.40" fill="#4b6fb8"/>
<text x="201.02" y="296.40" font-size="9.0" fill="#231f20" textLength="22.66" lengthAdjust="spacingAndGlyphs">19/28</text>
<rect x="190.30" y="307.60" width="6.60" height="6.40" fill="#b44c36"/>
<text x="201.02" y="313.70" font-size="9.0" fill="#231f20" textLength="22.66" lengthAdjust="spacingAndGlyphs">19/28</text>
<text x="228.03" y="313.70" font-size="9.0" fill="#231f20" textLength="30.41" lengthAdjust="spacingAndGlyphs" font-style="italic">FOXO3</text>
<text x="258.88" y="309.50" font-size="6.6" fill="#231f20" textLength="10.20" lengthAdjust="spacingAndGlyphs">OE</text>
<line x1="186.60" y1="412.00" x2="186.60" y2="436.10" stroke="#1e1e1e" stroke-width="1.35"/>
<line x1="186.60" y1="439.40" x2="186.60" y2="502.00" stroke="#1e1e1e" stroke-width="1.35"/>
<line x1="184.10" y1="436.10" x2="189.10" y2="436.10" stroke="#1e1e1e" stroke-width="1.1"/>
<line x1="183.90" y1="439.40" x2="189.30" y2="439.40" stroke="#1e1e1e" stroke-width="1.1"/>
<line x1="183.10" y1="415.30" x2="186.60" y2="415.30" stroke="#1e1e1e" stroke-width="1.0"/>
<line x1="183.10" y1="425.60" x2="186.60" y2="425.60" stroke="#1e1e1e" stroke-width="1.0"/>
<line x1="183.10" y1="470.80" x2="186.60" y2="470.80" stroke="#1e1e1e" stroke-width="1.0"/>
<line x1="183.10" y1="501.40" x2="186.60" y2="501.40" stroke="#1e1e1e" stroke-width="1.0"/>
<text x="163.58" y="418.20" font-size="9.6" fill="#231f20" textLength="15.68" lengthAdjust="spacingAndGlyphs">300</text>
<text x="163.58" y="428.50" font-size="9.6" fill="#231f20" textLength="15.68" lengthAdjust="spacingAndGlyphs">200</text>
<text x="168.79" y="442.40" font-size="9.6" fill="#231f20" textLength="10.46" lengthAdjust="spacingAndGlyphs">50</text>
<text x="168.80" y="473.70" font-size="9.6" fill="#231f20" textLength="10.46" lengthAdjust="spacingAndGlyphs">20</text>
<text x="174.01" y="504.30" font-size="9.6" fill="#231f20" textLength="5.23" lengthAdjust="spacingAndGlyphs">0</text>
<rect x="190.65" y="491.25" width="8.10" height="10.15" fill="#529f6e"/>
<line x1="192.30" y1="491.15" x2="197.10" y2="491.15" stroke="#2d573c" stroke-width="1.2"/>
<line x1="190.95" y1="491.65" x2="198.45" y2="491.65" stroke="#2d573c" stroke-width="0.8"/>
<rect x="203.65" y="491.25" width="8.10" height="10.15" fill="#f6a440"/>
<line x1="205.30" y1="491.15" x2="210.10" y2="491.15" stroke="#875a23" stroke-width="1.2"/>
<line x1="203.95" y1="491.65" x2="211.45" y2="491.65" stroke="#875a23" stroke-width="0.8"/>
<rect x="308.20" y="480.50" width="8.10" height="20.90" fill="#f6a440"/>
<line x1="312.25" y1="477.70" x2="312.25" y2="481.00" stroke="#555" stroke-width="1.0"/>
<line x1="309.85" y1="477.70" x2="314.65" y2="477.70" stroke="#3a3a3a" stroke-width="1.2"/>
<line x1="308.50" y1="480.90" x2="316.00" y2="480.90" stroke="#875a23" stroke-width="0.8"/>
<rect x="330.05" y="493.00" width="8.10" height="8.40" fill="#529f6e"/>
<line x1="334.10" y1="491.50" x2="334.10" y2="493.50" stroke="#555" stroke-width="1.0"/>
<line x1="331.70" y1="491.50" x2="336.50" y2="491.50" stroke="#3a3a3a" stroke-width="1.2"/>
<line x1="330.35" y1="493.40" x2="337.85" y2="493.40" stroke="#2d573c" stroke-width="0.8"/>
<rect x="343.05" y="470.00" width="8.10" height="31.40" fill="#f6a440"/>
<line x1="347.10" y1="465.40" x2="347.10" y2="470.50" stroke="#555" stroke-width="1.0"/>
<line x1="344.70" y1="465.40" x2="349.50" y2="465.40" stroke="#3a3a3a" stroke-width="1.2"/>
<line x1="343.35" y1="470.40" x2="350.85" y2="470.40" stroke="#875a23" stroke-width="0.8"/>
<rect x="364.90" y="460.40" width="8.10" height="41.00" fill="#529f6e"/>
<line x1="368.95" y1="457.40" x2="368.95" y2="460.90" stroke="#555" stroke-width="1.0"/>
<line x1="366.55" y1="457.40" x2="371.35" y2="457.40" stroke="#3a3a3a" stroke-width="1.2"/>
<line x1="365.20" y1="460.80" x2="372.70" y2="460.80" stroke="#2d573c" stroke-width="0.8"/>
<rect x="377.90" y="426.20" width="8.10" height="75.20" fill="#f6a440"/>
<line x1="381.95" y1="416.20" x2="381.95" y2="426.70" stroke="#555" stroke-width="1.0"/>
<line x1="379.55" y1="416.20" x2="384.35" y2="416.20" stroke="#3a3a3a" stroke-width="1.2"/>
<line x1="378.20" y1="426.60" x2="385.70" y2="426.60" stroke="#875a23" stroke-width="0.8"/>
<line x1="190.20" y1="491.00" x2="392.00" y2="491.00" stroke="#231f20" stroke-width="0.9" stroke-dasharray="1.05,1.1"/>
<rect x="377.45" y="435.80" width="8.60" height="4.00" fill="#ffffff"/>
<line x1="183.60" y1="501.40" x2="392.00" y2="501.40" stroke="#1e1e1e" stroke-width="1.35"/>
<line x1="201.40" y1="501.40" x2="201.40" y2="504.10" stroke="#1e1e1e" stroke-width="1.0"/>
<text x="198.77" y="515.90" font-size="9.6" fill="#231f20" textLength="5.23" lengthAdjust="spacingAndGlyphs">0</text>
<line x1="236.25" y1="501.40" x2="236.25" y2="504.10" stroke="#1e1e1e" stroke-width="1.0"/>
<text x="233.59" y="515.90" font-size="9.6" fill="#231f20" textLength="5.23" lengthAdjust="spacingAndGlyphs">6</text>
<line x1="271.10" y1="501.40" x2="271.10" y2="504.10" stroke="#1e1e1e" stroke-width="1.0"/>
<text x="265.70" y="515.90" font-size="9.6" fill="#231f20" textLength="10.46" lengthAdjust="spacingAndGlyphs">10</text>
<line x1="305.95" y1="501.40" x2="305.95" y2="504.10" stroke="#1e1e1e" stroke-width="1.0"/>
<text x="300.52" y="515.90" font-size="9.6" fill="#231f20" textLength="10.46" lengthAdjust="spacingAndGlyphs">14</text>
<line x1="340.80" y1="501.40" x2="340.80" y2="504.10" stroke="#1e1e1e" stroke-width="1.0"/>
<text x="335.42" y="515.90" font-size="9.6" fill="#231f20" textLength="10.46" lengthAdjust="spacingAndGlyphs">16</text>
<line x1="375.65" y1="501.40" x2="375.65" y2="504.10" stroke="#1e1e1e" stroke-width="1.0"/>
<text x="370.36" y="515.90" font-size="9.6" fill="#231f20" textLength="10.46" lengthAdjust="spacingAndGlyphs">20</text>
<line x1="299.60" y1="472.40" x2="315.80" y2="472.40" stroke="#231f20" stroke-width="1.15"/>
<path d="M301.93,466.30 L301.93,469.50 M300.54,467.10 L303.31,468.70 M303.31,467.10 L300.54,468.70 " stroke="#231f20" stroke-width="1.05" stroke-linecap="round"/>
<path d="M305.78,466.30 L305.78,469.50 M304.39,467.10 L307.16,468.70 M307.16,467.10 L304.39,468.70 " stroke="#231f20" stroke-width="1.05" stroke-linecap="round"/>
<path d="M309.63,466.30 L309.63,469.50 M308.24,467.10 L311.01,468.70 M311.01,467.10 L308.24,468.70 " stroke="#231f20" stroke-width="1.05" stroke-linecap="round"/>
<path d="M313.48,466.30 L313.48,469.50 M312.09,467.10 L314.86,468.70 M314.86,467.10 L312.09,468.70 " stroke="#231f20" stroke-width="1.05" stroke-linecap="round"/>
<line x1="333.00" y1="456.90" x2="349.30" y2="456.90" stroke="#231f20" stroke-width="1.15"/>
<path d="M335.43,450.80 L335.43,454.00 M334.04,451.60 L336.81,453.20 M336.81,451.60 L334.04,453.20 " stroke="#231f20" stroke-width="1.05" stroke-linecap="round"/>
<path d="M339.28,450.80 L339.28,454.00 M337.89,451.60 L340.66,453.20 M340.66,451.60 L337.89,453.20 " stroke="#231f20" stroke-width="1.05" stroke-linecap="round"/>
<path d="M343.13,450.80 L343.13,454.00 M341.74,451.60 L344.51,453.20 M344.51,451.60 L341.74,453.20 " stroke="#231f20" stroke-width="1.05" stroke-linecap="round"/>
<path d="M346.98,450.80 L346.98,454.00 M345.59,451.60 L348.36,453.20 M348.36,451.60 L345.59,453.20 " stroke="#231f20" stroke-width="1.05" stroke-linecap="round"/>
<line x1="368.50" y1="410.50" x2="384.40" y2="410.50" stroke="#231f20" stroke-width="1.15"/>
<path d="M370.73,404.40 L370.73,407.60 M369.34,405.20 L372.11,406.80 M372.11,405.20 L369.34,406.80 " stroke="#231f20" stroke-width="1.05" stroke-linecap="round"/>
<path d="M374.58,404.40 L374.58,407.60 M373.19,405.20 L375.96,406.80 M375.96,405.20 L373.19,406.80 " stroke="#231f20" stroke-width="1.05" stroke-linecap="round"/>
<path d="M378.43,404.40 L378.43,407.60 M377.04,405.20 L379.81,406.80 M379.81,405.20 L377.04,406.80 " stroke="#231f20" stroke-width="1.05" stroke-linecap="round"/>
<path d="M382.28,404.40 L382.28,407.60 M380.89,405.20 L383.66,406.80 M383.66,405.20 L380.89,406.80 " stroke="#231f20" stroke-width="1.05" stroke-linecap="round"/>
<rect x="196.90" y="418.20" width="6.60" height="6.20" fill="#529f6e"/>
<text x="207.75" y="424.00" font-size="9.0" fill="#231f20" textLength="23.73" lengthAdjust="spacingAndGlyphs">19/BB</text>
<rect x="196.90" y="435.60" width="6.60" height="6.20" fill="#f6a440"/>
<text x="207.75" y="441.40" font-size="9.0" fill="#231f20" textLength="23.73" lengthAdjust="spacingAndGlyphs">19/BB</text>
<text x="236.34" y="441.40" font-size="9.0" fill="#231f20" textLength="29.81" lengthAdjust="spacingAndGlyphs" font-style="italic">FOXO3</text>
<text x="266.63" y="437.00" font-size="6.6" fill="#231f20" textLength="8.71" lengthAdjust="spacingAndGlyphs">OE</text>
<text x="157.30" y="437.99" font-size="10.8" fill="#231f20" textLength="87.78" lengthAdjust="spacingAndGlyphs" transform="rotate(-90 157.30 437.99)">Nalm6 cells/CAR T cell</text>
<line x1="454.75" y1="281.00" x2="454.75" y2="375.20" stroke="#1e1e1e" stroke-width="1.35"/>
<line x1="451.25" y1="284.50" x2="454.75" y2="284.50" stroke="#1e1e1e" stroke-width="1.0"/>
<line x1="451.25" y1="329.60" x2="454.75" y2="329.60" stroke="#1e1e1e" stroke-width="1.0"/>
<line x1="451.25" y1="374.60" x2="454.75" y2="374.60" stroke="#1e1e1e" stroke-width="1.0"/>
<text x="437.44" y="287.40" font-size="9.6" fill="#231f20" textLength="10.46" lengthAdjust="spacingAndGlyphs">22</text>
<text x="437.44" y="332.50" font-size="9.6" fill="#231f20" textLength="10.46" lengthAdjust="spacingAndGlyphs">17</text>
<text x="437.44" y="377.50" font-size="9.6" fill="#231f20" textLength="10.46" lengthAdjust="spacingAndGlyphs">12</text>
<line x1="454.75" y1="374.60" x2="512.00" y2="374.60" stroke="#1e1e1e" stroke-width="1.35"/>
<line x1="471.00" y1="276.50" x2="497.00" y2="276.50" stroke="#231f20" stroke-width="1.15"/>
<text x="480.19" y="273.20" font-size="9.6" fill="#231f20" textLength="7.97" lengthAdjust="spacingAndGlyphs" font-style="italic">ns</text>
<circle cx="470.60" cy="291.00" r="5.50" fill="#5472bb" fill-opacity="0.9" stroke="#10163a" stroke-width="1.2" stroke-opacity="0.9" style="mix-blend-mode:multiply"/>
<circle cx="467.20" cy="300.20" r="5.50" fill="#5472bb" fill-opacity="0.9" stroke="#10163a" stroke-width="1.2" stroke-opacity="0.9" style="mix-blend-mode:multiply"/>
<circle cx="474.80" cy="300.20" r="5.50" fill="#5472bb" fill-opacity="0.9" stroke="#10163a" stroke-width="1.2" stroke-opacity="0.9" style="mix-blend-mode:multiply"/>
<circle cx="470.60" cy="303.00" r="5.50" fill="#5472bb" fill-opacity="0.9" stroke="#10163a" stroke-width="1.2" stroke-opacity="0.9" style="mix-blend-mode:multiply"/>
<circle cx="470.60" cy="306.80" r="5.50" fill="#5472bb" fill-opacity="0.9" stroke="#10163a" stroke-width="1.2" stroke-opacity="0.9" style="mix-blend-mode:multiply"/>
<circle cx="467.20" cy="316.50" r="5.50" fill="#5472bb" fill-opacity="0.9" stroke="#10163a" stroke-width="1.2" stroke-opacity="0.9" style="mix-blend-mode:multiply"/>
<circle cx="474.60" cy="316.50" r="5.50" fill="#5472bb" fill-opacity="0.9" stroke="#10163a" stroke-width="1.2" stroke-opacity="0.9" style="mix-blend-mode:multiply"/>
<circle cx="470.90" cy="316.50" r="5.50" fill="#5472bb" fill-opacity="0.9" stroke="#10163a" stroke-width="1.2" stroke-opacity="0.9" style="mix-blend-mode:multiply"/>
<circle cx="495.50" cy="291.00" r="5.50" fill="#a03a28" fill-opacity="0.9" stroke="#2a0803" stroke-width="1.2" stroke-opacity="0.9" style="mix-blend-mode:multiply"/>
<circle cx="495.50" cy="299.50" r="5.50" fill="#a03a28" fill-opacity="0.9" stroke="#2a0803" stroke-width="1.2" stroke-opacity="0.9" style="mix-blend-mode:multiply"/>
<circle cx="495.50" cy="302.50" r="5.50" fill="#a03a28" fill-opacity="0.9" stroke="#2a0803" stroke-width="1.2" stroke-opacity="0.9" style="mix-blend-mode:multiply"/>
<circle cx="492.20" cy="316.50" r="5.50" fill="#a03a28" fill-opacity="0.9" stroke="#2a0803" stroke-width="1.2" stroke-opacity="0.9" style="mix-blend-mode:multiply"/>
<circle cx="498.80" cy="316.50" r="5.50" fill="#a03a28" fill-opacity="0.9" stroke="#2a0803" stroke-width="1.2" stroke-opacity="0.9" style="mix-blend-mode:multiply"/>
<circle cx="495.50" cy="316.50" r="5.50" fill="#a03a28" fill-opacity="0.9" stroke="#2a0803" stroke-width="1.2" stroke-opacity="0.9" style="mix-blend-mode:multiply"/>
<line x1="461.00" y1="304.50" x2="481.70" y2="304.50" stroke="#111" stroke-width="1.1"/>
<line x1="485.10" y1="300.60" x2="505.70" y2="300.60" stroke="#111" stroke-width="1.1"/>
<line x1="454.75" y1="407.50" x2="454.75" y2="502.00" stroke="#1e1e1e" stroke-width="1.35"/>
<line x1="451.25" y1="411.00" x2="454.75" y2="411.00" stroke="#1e1e1e" stroke-width="1.0"/>
<line x1="451.25" y1="456.20" x2="454.75" y2="456.20" stroke="#1e1e1e" stroke-width="1.0"/>
<line x1="451.25" y1="501.40" x2="454.75" y2="501.40" stroke="#1e1e1e" stroke-width="1.0"/>
<text x="437.44" y="413.90" font-size="9.6" fill="#231f20" textLength="10.46" lengthAdjust="spacingAndGlyphs">22</text>
<text x="438.09" y="459.10" font-size="9.6" fill="#231f20" textLength="9.76" lengthAdjust="spacingAndGlyphs">11</text>
<text x="442.51" y="504.30" font-size="9.6" fill="#231f20" textLength="5.23" lengthAdjust="spacingAndGlyphs">0</text>
<line x1="454.75" y1="501.40" x2="512.00" y2="501.40" stroke="#1e1e1e" stroke-width="1.35"/>
<line x1="472.30" y1="406.50" x2="497.80" y2="406.50" stroke="#231f20" stroke-width="1.15"/>
<path d="M482.68,400.40 L482.68,403.60 M481.29,401.20 L484.06,402.80 M484.06,401.20 L481.29,402.80 " stroke="#231f20" stroke-width="1.05" stroke-linecap="round"/>
<path d="M486.53,400.40 L486.53,403.60 M485.14,401.20 L487.91,402.80 M487.91,401.20 L485.14,402.80 " stroke="#231f20" stroke-width="1.05" stroke-linecap="round"/>
<circle cx="471.00" cy="418.00" r="5.50" fill="#2f8f58" fill-opacity="0.9" stroke="#08331a" stroke-width="1.2" stroke-opacity="0.9" style="mix-blend-mode:multiply"/>
<circle cx="472.50" cy="419.50" r="5.50" fill="#2f8f58" fill-opacity="0.9" stroke="#08331a" stroke-width="1.2" stroke-opacity="0.9" style="mix-blend-mode:multiply"/>
<circle cx="471.00" cy="426.20" r="5.50" fill="#2f8f58" fill-opacity="0.9" stroke="#08331a" stroke-width="1.2" stroke-opacity="0.9" style="mix-blend-mode:multiply"/>
<circle cx="472.30" cy="439.40" r="5.50" fill="#2f8f58" fill-opacity="0.9" stroke="#08331a" stroke-width="1.2" stroke-opacity="0.9" style="mix-blend-mode:multiply"/>
<circle cx="468.50" cy="443.80" r="5.50" fill="#5aa878" fill-opacity="0.9" stroke="#0a3a1e" stroke-width="1.2" stroke-opacity="0.9" style="mix-blend-mode:multiply"/>
<circle cx="495.60" cy="442.50" r="5.50" fill="#f2862f" fill-opacity="0.9" stroke="#4a1c00" stroke-width="1.2" stroke-opacity="0.9" style="mix-blend-mode:multiply"/>
<circle cx="495.60" cy="451.90" r="5.50" fill="#f2862f" fill-opacity="0.9" stroke="#4a1c00" stroke-width="1.2" stroke-opacity="0.9" style="mix-blend-mode:multiply"/>
<circle cx="492.30" cy="472.30" r="5.50" fill="#f2862f" fill-opacity="0.9" stroke="#4a1c00" stroke-width="1.2" stroke-opacity="0.9" style="mix-blend-mode:multiply"/>
<circle cx="498.90" cy="472.30" r="5.50" fill="#f2862f" fill-opacity="0.9" stroke="#4a1c00" stroke-width="1.2" stroke-opacity="0.9" style="mix-blend-mode:multiply"/>
<circle cx="495.60" cy="472.30" r="5.50" fill="#f2862f" fill-opacity="0.9" stroke="#4a1c00" stroke-width="1.2" stroke-opacity="0.9" style="mix-blend-mode:multiply"/>
<line x1="460.60" y1="427.30" x2="481.20" y2="427.30" stroke="#111" stroke-width="1.1"/>
<line x1="485.60" y1="452.30" x2="505.60" y2="452.30" stroke="#111" stroke-width="1.1"/>
<text x="430.90" y="434.61" font-size="11" fill="#231f20" textLength="96.86" lengthAdjust="spacingAndGlyphs" transform="rotate(-90 430.90 434.61)">Day of dysfunction onset</text>
<line x1="48.75" y1="607.50" x2="48.75" y2="763.50" stroke="#1e1e1e" stroke-width="1.35"/>
<line x1="45.25" y1="621.30" x2="48.75" y2="621.30" stroke="#1e1e1e" stroke-width="1.0"/>
<line x1="45.25" y1="656.70" x2="48.75" y2="656.70" stroke="#1e1e1e" stroke-width="1.0"/>
<line x1="45.25" y1="692.10" x2="48.75" y2="692.10" stroke="#1e1e1e" stroke-width="1.0"/>
<line x1="45.25" y1="727.50" x2="48.75" y2="727.50" stroke="#1e1e1e" stroke-width="1.0"/>
<line x1="45.25" y1="762.90" x2="48.75" y2="762.90" stroke="#1e1e1e" stroke-width="1.0"/>
<text x="25.98" y="624.20" font-size="9.6" fill="#231f20" textLength="15.68" lengthAdjust="spacingAndGlyphs">100</text>
<text x="31.24" y="659.60" font-size="9.6" fill="#231f20" textLength="10.46" lengthAdjust="spacingAndGlyphs">75</text>
<text x="31.19" y="695.00" font-size="9.6" fill="#231f20" textLength="10.46" lengthAdjust="spacingAndGlyphs">50</text>
<text x="31.24" y="730.40" font-size="9.6" fill="#231f20" textLength="10.46" lengthAdjust="spacingAndGlyphs">25</text>
<text x="36.41" y="765.80" font-size="9.6" fill="#231f20" textLength="5.23" lengthAdjust="spacingAndGlyphs">0</text>
<line x1="45.45" y1="762.90" x2="246.20" y2="762.90" stroke="#1e1e1e" stroke-width="1.35"/>
<line x1="48.75" y1="762.90" x2="48.75" y2="766.20" stroke="#1e1e1e" stroke-width="1.0"/>
<text x="46.12" y="777.80" font-size="9.6" fill="#231f20" textLength="5.23" lengthAdjust="spacingAndGlyphs">0</text>
<line x1="97.25" y1="762.90" x2="97.25" y2="766.20" stroke="#1e1e1e" stroke-width="1.0"/>
<text x="91.84" y="777.80" font-size="9.6" fill="#231f20" textLength="10.46" lengthAdjust="spacingAndGlyphs">10</text>
<line x1="145.75" y1="762.90" x2="145.75" y2="766.20" stroke="#1e1e1e" stroke-width="1.0"/>
<text x="140.46" y="777.80" font-size="9.6" fill="#231f20" textLength="10.46" lengthAdjust="spacingAndGlyphs">20</text>
<line x1="194.25" y1="762.90" x2="194.25" y2="766.20" stroke="#1e1e1e" stroke-width="1.0"/>
<text x="189.01" y="777.80" font-size="9.6" fill="#231f20" textLength="10.46" lengthAdjust="spacingAndGlyphs">30</text>
<line x1="242.75" y1="762.90" x2="242.75" y2="766.20" stroke="#1e1e1e" stroke-width="1.0"/>
<text x="237.60" y="777.80" font-size="9.6" fill="#231f20" textLength="10.46" lengthAdjust="spacingAndGlyphs">40</text>
<path d="M48.75,621.30 L184.55,621.30 L184.55,715.70 L203.95,715.70 L203.95,762.90" fill="none" stroke="#a39b3d" stroke-width="1.35"/>
<path d="M48.75,621.30 L170.00,621.30 L170.00,715.70 L194.25,715.70 L194.25,762.90" fill="none" stroke="#23a06c" stroke-width="1.35"/>
<path d="M48.75,621.30 L150.60,621.30 L150.60,706.26 L160.30,706.26 L160.30,734.58 L170.00,734.58 L170.00,762.90" fill="none" stroke="#1f1f1f" stroke-width="1.35"/>
<text x="95.79" y="792.70" font-size="11.2" fill="#231f20" textLength="103.30" lengthAdjust="spacingAndGlyphs">Days after Nalm6 injection</text>
<text x="19.50" y="730.25" font-size="10.6" fill="#231f20" textLength="88.69" lengthAdjust="spacingAndGlyphs" transform="rotate(-90 19.50 730.25)">Probability of survival</text>
<line x1="307.50" y1="607.50" x2="307.50" y2="763.50" stroke="#1e1e1e" stroke-width="1.35"/>
<line x1="304.00" y1="621.30" x2="307.50" y2="621.30" stroke="#1e1e1e" stroke-width="1.0"/>
<line x1="304.00" y1="656.70" x2="307.50" y2="656.70" stroke="#1e1e1e" stroke-width="1.0"/>
<line x1="304.00" y1="692.10" x2="307.50" y2="692.10" stroke="#1e1e1e" stroke-width="1.0"/>
<line x1="304.00" y1="727.50" x2="307.50" y2="727.50" stroke="#1e1e1e" stroke-width="1.0"/>
<line x1="304.00" y1="762.90" x2="307.50" y2="762.90" stroke="#1e1e1e" stroke-width="1.0"/>
<text x="284.88" y="624.20" font-size="9.6" fill="#231f20" textLength="15.68" lengthAdjust="spacingAndGlyphs">100</text>
<text x="290.14" y="659.60" font-size="9.6" fill="#231f20" textLength="10.46" lengthAdjust="spacingAndGlyphs">75</text>
<text x="290.10" y="695.00" font-size="9.6" fill="#231f20" textLength="10.46" lengthAdjust="spacingAndGlyphs">50</text>
<text x="290.14" y="730.40" font-size="9.6" fill="#231f20" textLength="10.46" lengthAdjust="spacingAndGlyphs">25</text>
<text x="295.31" y="765.80" font-size="9.6" fill="#231f20" textLength="5.23" lengthAdjust="spacingAndGlyphs">0</text>
<line x1="304.20" y1="762.90" x2="505.00" y2="762.90" stroke="#1e1e1e" stroke-width="1.35"/>
<line x1="307.50" y1="762.90" x2="307.50" y2="766.20" stroke="#1e1e1e" stroke-width="1.0"/>
<text x="304.87" y="777.80" font-size="9.6" fill="#231f20" textLength="5.23" lengthAdjust="spacingAndGlyphs">0</text>
<line x1="346.50" y1="762.90" x2="346.50" y2="766.20" stroke="#1e1e1e" stroke-width="1.0"/>
<text x="341.10" y="777.80" font-size="9.6" fill="#231f20" textLength="10.46" lengthAdjust="spacingAndGlyphs">10</text>
<line x1="385.50" y1="762.90" x2="385.50" y2="766.20" stroke="#1e1e1e" stroke-width="1.0"/>
<text x="380.21" y="777.80" font-size="9.6" fill="#231f20" textLength="10.46" lengthAdjust="spacingAndGlyphs">20</text>
<line x1="424.50" y1="762.90" x2="424.50" y2="766.20" stroke="#1e1e1e" stroke-width="1.0"/>
<text x="419.26" y="777.80" font-size="9.6" fill="#231f20" textLength="10.46" lengthAdjust="spacingAndGlyphs">30</text>
<line x1="463.50" y1="762.90" x2="463.50" y2="766.20" stroke="#1e1e1e" stroke-width="1.0"/>
<text x="458.35" y="777.80" font-size="9.6" fill="#231f20" textLength="10.46" lengthAdjust="spacingAndGlyphs">40</text>
<line x1="502.50" y1="762.90" x2="502.50" y2="766.20" stroke="#1e1e1e" stroke-width="1.0"/>
<text x="497.26" y="777.80" font-size="9.6" fill="#231f20" textLength="10.46" lengthAdjust="spacingAndGlyphs">50</text>
<path d="M307.50,621.30 L389.40,621.30 L389.40,706.26 L397.20,706.26 L397.20,734.58 L405.00,734.58 L405.00,762.90" fill="none" stroke="#1f1f1f" stroke-width="1.35"/>
<path d="M307.50,621.30 L432.30,621.30 L432.30,677.94 L444.00,677.94 L444.00,706.26 L467.40,706.26 L467.40,762.90" fill="none" stroke="#a39b3d" stroke-width="1.35"/>
<path d="M307.50,621.30 L405.00,621.30 L405.00,706.26 L424.50,706.26 L424.50,734.58 L436.20,734.58 L436.20,762.90" fill="none" stroke="#23a06c" stroke-width="1.35"/>
<text x="354.39" y="792.70" font-size="11.2" fill="#231f20" textLength="104.21" lengthAdjust="spacingAndGlyphs">Days after Nalm6 injection</text>
<text x="278.00" y="730.04" font-size="10.6" fill="#231f20" textLength="87.88" lengthAdjust="spacingAndGlyphs" transform="rotate(-90 278.00 730.04)">Probability of survival</text>
<line x1="48.50" y1="557.50" x2="62.50" y2="557.50" stroke="#1f1f1f" stroke-width="1.35"/>
<line x1="55.50" y1="554.50" x2="55.50" y2="557.50" stroke="#1f1f1f" stroke-width="1.0"/>
<line x1="48.50" y1="577.50" x2="62.50" y2="577.50" stroke="#23a06c" stroke-width="1.35"/>
<line x1="55.50" y1="574.50" x2="55.50" y2="577.50" stroke="#23a06c" stroke-width="1.0"/>
<line x1="48.50" y1="596.80" x2="62.50" y2="596.80" stroke="#a39b3d" stroke-width="1.35"/>
<line x1="55.50" y1="593.80" x2="55.50" y2="596.80" stroke="#a39b3d" stroke-width="1.0"/>
<text x="66.36" y="560.50" font-size="9.4" fill="#231f20" textLength="99.00" lengthAdjust="spacingAndGlyphs">Control (median 21 days)</text>
<text x="66.75" y="580.30" font-size="9.4" fill="#231f20" textLength="92.80" lengthAdjust="spacingAndGlyphs">19/BB (median 25 days)</text>
<text x="66.75" y="599.80" font-size="9.4" fill="#231f20" textLength="23.52" lengthAdjust="spacingAndGlyphs">19/BB</text>
<text x="93.95" y="599.80" font-size="9.4" fill="#231f20" textLength="28.49" lengthAdjust="spacingAndGlyphs" font-style="italic">FOXO3</text>
<text x="122.40" y="595.40" font-size="6.8" fill="#231f20" textLength="9.12" lengthAdjust="spacingAndGlyphs">KO</text>
<text x="134.48" y="599.80" font-size="9.4" fill="#231f20" textLength="66.44" lengthAdjust="spacingAndGlyphs">(median 28 days)</text>
<line x1="307.40" y1="557.50" x2="321.40" y2="557.50" stroke="#1f1f1f" stroke-width="1.35"/>
<line x1="314.40" y1="554.50" x2="314.40" y2="557.50" stroke="#1f1f1f" stroke-width="1.0"/>
<line x1="307.40" y1="577.50" x2="321.40" y2="577.50" stroke="#23a06c" stroke-width="1.35"/>
<line x1="314.40" y1="574.50" x2="314.40" y2="577.50" stroke="#23a06c" stroke-width="1.0"/>
<line x1="307.40" y1="596.80" x2="321.40" y2="596.80" stroke="#a39b3d" stroke-width="1.35"/>
<line x1="314.40" y1="593.80" x2="314.40" y2="596.80" stroke="#a39b3d" stroke-width="1.0"/>
<text x="325.16" y="560.50" font-size="9.4" fill="#231f20" textLength="98.29" lengthAdjust="spacingAndGlyphs">Control (median 21 days)</text>
<text x="325.46" y="580.30" font-size="9.4" fill="#231f20" textLength="92.19" lengthAdjust="spacingAndGlyphs">19/BB (median 25 days)</text>
<text x="325.44" y="599.80" font-size="9.4" fill="#231f20" textLength="24.04" lengthAdjust="spacingAndGlyphs">19/BB</text>
<text x="352.15" y="599.80" font-size="9.4" fill="#231f20" textLength="28.59" lengthAdjust="spacingAndGlyphs" font-style="italic">FOXO3</text>
<text x="380.65" y="595.40" font-size="6.8" fill="#231f20" textLength="10.00" lengthAdjust="spacingAndGlyphs">KO</text>
<text x="392.98" y="599.80" font-size="9.4" fill="#231f20" textLength="66.95" lengthAdjust="spacingAndGlyphs">(median 36 days)</text>
<line x1="204.20" y1="557.30" x2="204.20" y2="576.90" stroke="#333" stroke-width="1.45"/>
<text x="206.10" y="550.79" font-size="9.2" fill="#231f20" textLength="33.37" lengthAdjust="spacingAndGlyphs" transform="rotate(90 206.10 550.79)"><tspan font-style="italic">P</tspan><tspan fill="#c8c8c8" stroke="none"> = </tspan>.018</text>
<line x1="221.00" y1="578.00" x2="221.00" y2="596.50" stroke="#333" stroke-width="1.45"/>
<text x="223.30" y="569.90" font-size="9.2" fill="#231f20" textLength="32.80" lengthAdjust="spacingAndGlyphs" transform="rotate(90 223.30 569.90)"><tspan font-style="italic">P</tspan><tspan fill="#c8c8c8" stroke="none"> = </tspan>.101</text>
<line x1="237.70" y1="557.90" x2="237.70" y2="596.50" stroke="#333" stroke-width="1.45"/>
<text x="240.10" y="560.07" font-size="9.2" fill="#231f20" textLength="33.98" lengthAdjust="spacingAndGlyphs" transform="rotate(90 240.10 560.07)"><tspan font-style="italic">P</tspan><tspan fill="#c8c8c8" stroke="none"> = </tspan>.007</text>
<line x1="463.10" y1="557.90" x2="463.10" y2="576.90" stroke="#333" stroke-width="1.45"/>
<text x="465.00" y="550.78" font-size="9.2" fill="#231f20" textLength="32.93" lengthAdjust="spacingAndGlyphs" transform="rotate(90 465.00 550.78)"><tspan font-style="italic">P</tspan><tspan fill="#c8c8c8" stroke="none"> = </tspan>.011</text>
<line x1="479.80" y1="578.00" x2="479.80" y2="596.50" stroke="#333" stroke-width="1.45"/>
<text x="481.60" y="569.89" font-size="9.2" fill="#231f20" textLength="33.37" lengthAdjust="spacingAndGlyphs" transform="rotate(90 481.60 569.89)"><tspan font-style="italic">P</tspan><tspan fill="#c8c8c8" stroke="none"> = </tspan>.016</text>
<line x1="496.50" y1="557.30" x2="496.50" y2="596.50" stroke="#333" stroke-width="1.45"/>
<text x="499.00" y="558.90" font-size="9.2" fill="#231f20" textLength="37.46" lengthAdjust="spacingAndGlyphs" transform="rotate(90 499.00 558.90)"><tspan font-style="italic">P</tspan><tspan fill="#c8c8c8" stroke="none"> = </tspan>.0015</text>
<rect x="0.5" y="0.5" width="519" height="803" fill="none" stroke="#3a3a3a" stroke-width="1"/>
</svg>
</body></html>
